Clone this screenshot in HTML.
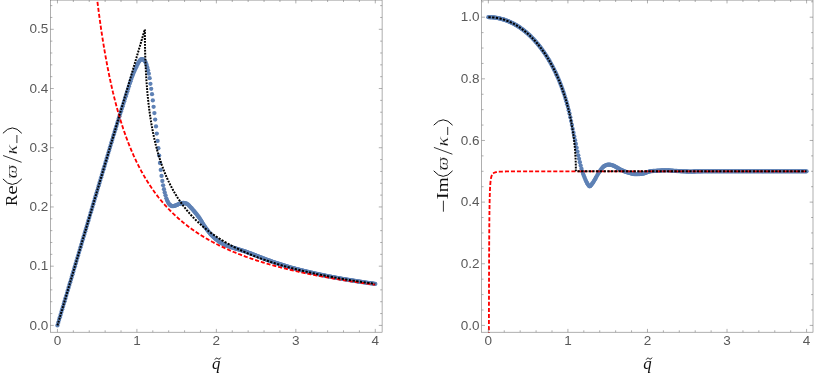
<!DOCTYPE html>
<html><head><meta charset="utf-8"><title>plot</title>
<style>html,body{margin:0;padding:0;background:#fff}body{width:814px;height:379px;position:relative;overflow:hidden;font-family:"Liberation Sans",sans-serif}</style>
</head><body>
<svg width="814" height="379" viewBox="0 0 814 379" style="position:absolute;left:0;top:0;opacity:0.999;will-change:transform"><defs><clipPath id="cl"><rect x="50.45" y="0.1" width="331.65000000000003" height="332.7"/></clipPath><clipPath id="cr"><rect x="481.66" y="0.1" width="331.34" height="332.7"/></clipPath></defs><g clip-path="url(#cl)"><g fill="#5e81b5"><circle cx="57.45" cy="325.40" r="2.15"/><circle cx="58.24" cy="322.71" r="2.15"/><circle cx="59.04" cy="320.02" r="2.15"/><circle cx="59.83" cy="317.32" r="2.15"/><circle cx="60.63" cy="314.63" r="2.15"/><circle cx="61.42" cy="311.94" r="2.15"/><circle cx="62.22" cy="309.25" r="2.15"/><circle cx="63.01" cy="306.56" r="2.15"/><circle cx="63.81" cy="303.87" r="2.15"/><circle cx="64.60" cy="301.17" r="2.15"/><circle cx="65.40" cy="298.48" r="2.15"/><circle cx="66.19" cy="295.79" r="2.15"/><circle cx="66.99" cy="293.10" r="2.15"/><circle cx="67.78" cy="290.41" r="2.15"/><circle cx="68.57" cy="287.71" r="2.15"/><circle cx="69.37" cy="285.02" r="2.15"/><circle cx="70.16" cy="282.33" r="2.15"/><circle cx="70.96" cy="279.64" r="2.15"/><circle cx="71.75" cy="276.95" r="2.15"/><circle cx="72.55" cy="274.26" r="2.15"/><circle cx="73.34" cy="271.56" r="2.15"/><circle cx="74.14" cy="268.87" r="2.15"/><circle cx="74.93" cy="266.18" r="2.15"/><circle cx="75.73" cy="263.49" r="2.15"/><circle cx="76.52" cy="260.80" r="2.15"/><circle cx="77.31" cy="258.10" r="2.15"/><circle cx="78.11" cy="255.41" r="2.15"/><circle cx="78.90" cy="252.72" r="2.15"/><circle cx="79.70" cy="250.03" r="2.15"/><circle cx="80.49" cy="247.34" r="2.15"/><circle cx="81.29" cy="244.65" r="2.15"/><circle cx="82.08" cy="241.95" r="2.15"/><circle cx="82.88" cy="239.26" r="2.15"/><circle cx="83.67" cy="236.57" r="2.15"/><circle cx="84.47" cy="233.88" r="2.15"/><circle cx="85.26" cy="231.19" r="2.15"/><circle cx="86.06" cy="228.49" r="2.15"/><circle cx="86.85" cy="225.80" r="2.15"/><circle cx="87.64" cy="223.11" r="2.15"/><circle cx="88.44" cy="220.42" r="2.15"/><circle cx="89.23" cy="217.73" r="2.15"/><circle cx="90.03" cy="215.04" r="2.15"/><circle cx="90.82" cy="212.34" r="2.15"/><circle cx="91.62" cy="209.65" r="2.15"/><circle cx="92.41" cy="206.96" r="2.15"/><circle cx="93.21" cy="204.27" r="2.15"/><circle cx="94.00" cy="201.58" r="2.15"/><circle cx="94.80" cy="198.88" r="2.15"/><circle cx="95.59" cy="196.19" r="2.15"/><circle cx="96.39" cy="193.50" r="2.15"/><circle cx="97.18" cy="190.81" r="2.15"/><circle cx="97.97" cy="188.12" r="2.15"/><circle cx="98.77" cy="185.43" r="2.15"/><circle cx="99.56" cy="182.73" r="2.15"/><circle cx="100.36" cy="180.04" r="2.15"/><circle cx="101.15" cy="177.35" r="2.15"/><circle cx="101.95" cy="174.66" r="2.15"/><circle cx="102.74" cy="171.97" r="2.15"/><circle cx="103.54" cy="169.27" r="2.15"/><circle cx="104.33" cy="166.58" r="2.15"/><circle cx="105.13" cy="163.89" r="2.15"/><circle cx="105.92" cy="161.20" r="2.15"/><circle cx="106.72" cy="158.51" r="2.15"/><circle cx="107.51" cy="155.82" r="2.15"/><circle cx="108.30" cy="153.12" r="2.15"/><circle cx="109.10" cy="150.43" r="2.15"/><circle cx="109.89" cy="147.74" r="2.15"/><circle cx="110.69" cy="145.05" r="2.15"/><circle cx="111.48" cy="142.36" r="2.15"/><circle cx="112.28" cy="139.66" r="2.15"/><circle cx="113.07" cy="136.97" r="2.15"/><circle cx="113.87" cy="134.35" r="2.15"/><circle cx="114.66" cy="131.74" r="2.15"/><circle cx="115.46" cy="129.15" r="2.15"/><circle cx="116.25" cy="126.56" r="2.15"/><circle cx="117.05" cy="123.99" r="2.15"/><circle cx="117.84" cy="121.43" r="2.15"/><circle cx="118.63" cy="118.87" r="2.15"/><circle cx="119.43" cy="116.32" r="2.15"/><circle cx="120.22" cy="113.78" r="2.15"/><circle cx="121.02" cy="111.24" r="2.15"/><circle cx="121.81" cy="108.70" r="2.15"/><circle cx="122.61" cy="106.18" r="2.15"/><circle cx="123.40" cy="103.65" r="2.15"/><circle cx="124.20" cy="101.14" r="2.15"/><circle cx="124.99" cy="98.64" r="2.15"/><circle cx="125.79" cy="96.14" r="2.15"/><circle cx="126.58" cy="93.66" r="2.15"/><circle cx="127.37" cy="91.18" r="2.15"/><circle cx="128.17" cy="88.68" r="2.15"/><circle cx="128.96" cy="86.15" r="2.15"/><circle cx="129.76" cy="83.62" r="2.15"/><circle cx="130.55" cy="81.15" r="2.15"/><circle cx="131.35" cy="78.78" r="2.15"/><circle cx="132.14" cy="76.55" r="2.15"/><circle cx="132.94" cy="74.52" r="2.15"/><circle cx="133.73" cy="72.61" r="2.15"/><circle cx="134.53" cy="70.77" r="2.15"/><circle cx="135.32" cy="68.92" r="2.15"/><circle cx="136.12" cy="67.13" r="2.15"/><circle cx="136.91" cy="65.48" r="2.15"/><circle cx="137.70" cy="63.97" r="2.15"/><circle cx="138.50" cy="62.58" r="2.15"/><circle cx="139.29" cy="61.32" r="2.15"/><circle cx="140.09" cy="60.21" r="2.15"/><circle cx="140.88" cy="59.49" r="2.15"/><circle cx="141.68" cy="59.10" r="2.15"/><circle cx="142.47" cy="59.23" r="2.15"/><circle cx="143.27" cy="59.53" r="2.15"/><circle cx="144.06" cy="60.15" r="2.15"/><circle cx="144.86" cy="61.17" r="2.15"/><circle cx="145.65" cy="62.48" r="2.15"/><circle cx="146.45" cy="64.52" r="2.15"/><circle cx="147.24" cy="67.20" r="2.15"/><circle cx="148.03" cy="70.14" r="2.15"/><circle cx="148.83" cy="73.63" r="2.15"/><circle cx="149.62" cy="78.19" r="2.15"/><circle cx="150.42" cy="83.79" r="2.15"/><circle cx="151.21" cy="88.82" r="2.15"/><circle cx="152.01" cy="94.19" r="2.15"/><circle cx="152.80" cy="100.41" r="2.15"/><circle cx="153.60" cy="106.85" r="2.15"/><circle cx="154.39" cy="113.12" r="2.15"/><circle cx="155.19" cy="119.60" r="2.15"/><circle cx="155.98" cy="126.47" r="2.15"/><circle cx="156.77" cy="133.62" r="2.15"/><circle cx="157.57" cy="140.89" r="2.15"/><circle cx="158.36" cy="148.21" r="2.15"/><circle cx="159.16" cy="155.61" r="2.15"/><circle cx="159.95" cy="162.98" r="2.15"/><circle cx="160.75" cy="169.94" r="2.15"/><circle cx="161.54" cy="175.92" r="2.15"/><circle cx="162.34" cy="180.98" r="2.15"/><circle cx="163.13" cy="185.36" r="2.15"/><circle cx="163.93" cy="189.16" r="2.15"/><circle cx="164.72" cy="192.44" r="2.15"/><circle cx="165.52" cy="195.37" r="2.15"/><circle cx="166.31" cy="198.37" r="2.15"/><circle cx="167.10" cy="200.41" r="2.15"/><circle cx="167.90" cy="201.97" r="2.15"/><circle cx="168.69" cy="203.38" r="2.15"/><circle cx="169.49" cy="204.50" r="2.15"/><circle cx="170.28" cy="205.19" r="2.15"/><circle cx="171.08" cy="205.75" r="2.15"/><circle cx="171.87" cy="206.12" r="2.15"/><circle cx="172.67" cy="206.19" r="2.15"/><circle cx="173.46" cy="206.09" r="2.15"/><circle cx="174.26" cy="205.89" r="2.15"/><circle cx="175.05" cy="205.64" r="2.15"/><circle cx="175.85" cy="205.38" r="2.15"/><circle cx="176.64" cy="205.10" r="2.15"/><circle cx="177.43" cy="204.74" r="2.15"/><circle cx="178.23" cy="204.34" r="2.15"/><circle cx="179.02" cy="203.97" r="2.15"/><circle cx="179.82" cy="203.70" r="2.15"/><circle cx="180.61" cy="203.48" r="2.15"/><circle cx="181.41" cy="203.28" r="2.15"/><circle cx="182.20" cy="203.12" r="2.15"/><circle cx="183.00" cy="203.02" r="2.15"/><circle cx="183.79" cy="203.01" r="2.15"/><circle cx="184.59" cy="203.10" r="2.15"/><circle cx="185.38" cy="203.28" r="2.15"/><circle cx="186.18" cy="203.52" r="2.15"/><circle cx="186.97" cy="203.81" r="2.15"/><circle cx="187.76" cy="204.32" r="2.15"/><circle cx="188.56" cy="205.04" r="2.15"/><circle cx="189.35" cy="205.89" r="2.15"/><circle cx="190.15" cy="206.79" r="2.15"/><circle cx="190.94" cy="207.64" r="2.15"/><circle cx="191.74" cy="208.48" r="2.15"/><circle cx="192.53" cy="209.37" r="2.15"/><circle cx="193.33" cy="210.28" r="2.15"/><circle cx="194.12" cy="211.22" r="2.15"/><circle cx="194.92" cy="212.18" r="2.15"/><circle cx="195.71" cy="213.14" r="2.15"/><circle cx="196.50" cy="214.12" r="2.15"/><circle cx="197.30" cy="215.12" r="2.15"/><circle cx="198.09" cy="216.15" r="2.15"/><circle cx="198.89" cy="217.22" r="2.15"/><circle cx="199.68" cy="218.36" r="2.15"/><circle cx="200.48" cy="219.59" r="2.15"/><circle cx="201.27" cy="220.89" r="2.15"/><circle cx="202.07" cy="222.22" r="2.15"/><circle cx="202.86" cy="223.54" r="2.15"/><circle cx="203.66" cy="224.83" r="2.15"/><circle cx="204.45" cy="226.03" r="2.15"/><circle cx="205.25" cy="227.17" r="2.15"/><circle cx="206.04" cy="228.30" r="2.15"/><circle cx="206.83" cy="229.41" r="2.15"/><circle cx="207.63" cy="230.49" r="2.15"/><circle cx="208.42" cy="231.53" r="2.15"/><circle cx="209.22" cy="232.53" r="2.15"/><circle cx="210.01" cy="233.49" r="2.15"/><circle cx="210.81" cy="234.39" r="2.15"/><circle cx="211.60" cy="235.23" r="2.15"/><circle cx="212.40" cy="236.03" r="2.15"/><circle cx="213.19" cy="236.81" r="2.15"/><circle cx="213.99" cy="237.55" r="2.15"/><circle cx="214.78" cy="238.27" r="2.15"/><circle cx="215.58" cy="238.95" r="2.15"/><circle cx="216.37" cy="239.59" r="2.15"/><circle cx="217.16" cy="240.21" r="2.15"/><circle cx="217.96" cy="240.79" r="2.15"/><circle cx="218.75" cy="241.35" r="2.15"/><circle cx="219.55" cy="241.89" r="2.15"/><circle cx="220.34" cy="242.41" r="2.15"/><circle cx="221.14" cy="242.90" r="2.15"/><circle cx="221.93" cy="243.37" r="2.15"/><circle cx="222.73" cy="243.82" r="2.15"/><circle cx="223.52" cy="244.23" r="2.15"/><circle cx="224.32" cy="244.61" r="2.15"/><circle cx="225.11" cy="244.96" r="2.15"/><circle cx="225.91" cy="245.29" r="2.15"/><circle cx="226.70" cy="245.60" r="2.15"/><circle cx="227.49" cy="245.90" r="2.15"/><circle cx="228.29" cy="246.19" r="2.15"/><circle cx="229.08" cy="246.46" r="2.15"/><circle cx="229.88" cy="246.73" r="2.15"/><circle cx="230.67" cy="246.99" r="2.15"/><circle cx="231.47" cy="247.24" r="2.15"/><circle cx="232.26" cy="247.50" r="2.15"/><circle cx="233.06" cy="247.76" r="2.15"/><circle cx="233.85" cy="248.01" r="2.15"/><circle cx="234.65" cy="248.26" r="2.15"/><circle cx="235.44" cy="248.51" r="2.15"/><circle cx="236.24" cy="248.74" r="2.15"/><circle cx="237.03" cy="248.98" r="2.15"/><circle cx="237.82" cy="249.21" r="2.15"/><circle cx="238.62" cy="249.44" r="2.15"/><circle cx="239.41" cy="249.67" r="2.15"/><circle cx="240.21" cy="249.90" r="2.15"/><circle cx="241.00" cy="250.14" r="2.15"/><circle cx="241.80" cy="250.38" r="2.15"/><circle cx="242.59" cy="250.63" r="2.15"/><circle cx="243.39" cy="250.89" r="2.15"/><circle cx="244.18" cy="251.16" r="2.15"/><circle cx="244.98" cy="251.43" r="2.15"/><circle cx="245.77" cy="251.71" r="2.15"/><circle cx="246.56" cy="251.99" r="2.15"/><circle cx="247.36" cy="252.27" r="2.15"/><circle cx="248.15" cy="252.56" r="2.15"/><circle cx="248.95" cy="252.85" r="2.15"/><circle cx="249.74" cy="253.14" r="2.15"/><circle cx="250.54" cy="253.44" r="2.15"/><circle cx="251.33" cy="253.73" r="2.15"/><circle cx="252.13" cy="254.03" r="2.15"/><circle cx="252.92" cy="254.33" r="2.15"/><circle cx="253.72" cy="254.63" r="2.15"/><circle cx="254.51" cy="254.93" r="2.15"/><circle cx="255.31" cy="255.24" r="2.15"/><circle cx="256.10" cy="255.55" r="2.15"/><circle cx="256.89" cy="255.86" r="2.15"/><circle cx="257.69" cy="256.18" r="2.15"/><circle cx="258.48" cy="256.50" r="2.15"/><circle cx="259.28" cy="256.82" r="2.15"/><circle cx="260.07" cy="257.14" r="2.15"/><circle cx="260.87" cy="257.45" r="2.15"/><circle cx="261.66" cy="257.77" r="2.15"/><circle cx="262.46" cy="258.08" r="2.15"/><circle cx="263.25" cy="258.38" r="2.15"/><circle cx="264.05" cy="258.68" r="2.15"/><circle cx="264.84" cy="258.97" r="2.15"/><circle cx="265.64" cy="259.26" r="2.15"/><circle cx="266.43" cy="259.55" r="2.15"/><circle cx="267.22" cy="259.84" r="2.15"/><circle cx="268.02" cy="260.13" r="2.15"/><circle cx="268.81" cy="260.42" r="2.15"/><circle cx="269.61" cy="260.70" r="2.15"/><circle cx="270.40" cy="260.98" r="2.15"/><circle cx="271.20" cy="261.26" r="2.15"/><circle cx="271.99" cy="261.54" r="2.15"/><circle cx="272.79" cy="261.82" r="2.15"/><circle cx="273.58" cy="262.09" r="2.15"/><circle cx="274.38" cy="262.37" r="2.15"/><circle cx="275.17" cy="262.64" r="2.15"/><circle cx="275.96" cy="262.90" r="2.15"/><circle cx="276.76" cy="263.17" r="2.15"/><circle cx="277.55" cy="263.43" r="2.15"/><circle cx="278.35" cy="263.69" r="2.15"/><circle cx="279.14" cy="263.95" r="2.15"/><circle cx="279.94" cy="264.20" r="2.15"/><circle cx="280.73" cy="264.45" r="2.15"/><circle cx="281.53" cy="264.70" r="2.15"/><circle cx="282.32" cy="264.95" r="2.15"/><circle cx="283.12" cy="265.20" r="2.15"/><circle cx="283.91" cy="265.44" r="2.15"/><circle cx="284.71" cy="265.69" r="2.15"/><circle cx="285.50" cy="265.93" r="2.15"/><circle cx="286.29" cy="266.17" r="2.15"/><circle cx="287.09" cy="266.40" r="2.15"/><circle cx="287.88" cy="266.64" r="2.15"/><circle cx="288.68" cy="266.87" r="2.15"/><circle cx="289.47" cy="267.10" r="2.15"/><circle cx="290.27" cy="267.33" r="2.15"/><circle cx="291.06" cy="267.55" r="2.15"/><circle cx="291.86" cy="267.78" r="2.15"/><circle cx="292.65" cy="268.00" r="2.15"/><circle cx="293.45" cy="268.22" r="2.15"/><circle cx="294.24" cy="268.43" r="2.15"/><circle cx="295.04" cy="268.65" r="2.15"/><circle cx="295.83" cy="268.86" r="2.15"/><circle cx="296.62" cy="269.07" r="2.15"/><circle cx="297.42" cy="269.27" r="2.15"/><circle cx="298.21" cy="269.48" r="2.15"/><circle cx="299.01" cy="269.68" r="2.15"/><circle cx="299.80" cy="269.88" r="2.15"/><circle cx="300.60" cy="270.09" r="2.15"/><circle cx="301.39" cy="270.29" r="2.15"/><circle cx="302.19" cy="270.48" r="2.15"/><circle cx="302.98" cy="270.68" r="2.15"/><circle cx="303.78" cy="270.88" r="2.15"/><circle cx="304.57" cy="271.07" r="2.15"/><circle cx="305.37" cy="271.26" r="2.15"/><circle cx="306.16" cy="271.45" r="2.15"/><circle cx="306.95" cy="271.64" r="2.15"/><circle cx="307.75" cy="271.83" r="2.15"/><circle cx="308.54" cy="272.02" r="2.15"/><circle cx="309.34" cy="272.20" r="2.15"/><circle cx="310.13" cy="272.39" r="2.15"/><circle cx="310.93" cy="272.57" r="2.15"/><circle cx="311.72" cy="272.75" r="2.15"/><circle cx="312.52" cy="272.93" r="2.15"/><circle cx="313.31" cy="273.11" r="2.15"/><circle cx="314.11" cy="273.29" r="2.15"/><circle cx="314.90" cy="273.47" r="2.15"/><circle cx="315.69" cy="273.64" r="2.15"/><circle cx="316.49" cy="273.82" r="2.15"/><circle cx="317.28" cy="273.99" r="2.15"/><circle cx="318.08" cy="274.16" r="2.15"/><circle cx="318.87" cy="274.33" r="2.15"/><circle cx="319.67" cy="274.50" r="2.15"/><circle cx="320.46" cy="274.66" r="2.15"/><circle cx="321.26" cy="274.83" r="2.15"/><circle cx="322.05" cy="275.00" r="2.15"/><circle cx="322.85" cy="275.16" r="2.15"/><circle cx="323.64" cy="275.32" r="2.15"/><circle cx="324.44" cy="275.49" r="2.15"/><circle cx="325.23" cy="275.65" r="2.15"/><circle cx="326.02" cy="275.81" r="2.15"/><circle cx="326.82" cy="275.97" r="2.15"/><circle cx="327.61" cy="276.12" r="2.15"/><circle cx="328.41" cy="276.28" r="2.15"/><circle cx="329.20" cy="276.44" r="2.15"/><circle cx="330.00" cy="276.59" r="2.15"/><circle cx="330.79" cy="276.75" r="2.15"/><circle cx="331.59" cy="276.90" r="2.15"/><circle cx="332.38" cy="277.05" r="2.15"/><circle cx="333.18" cy="277.20" r="2.15"/><circle cx="333.97" cy="277.35" r="2.15"/><circle cx="334.77" cy="277.50" r="2.15"/><circle cx="335.56" cy="277.64" r="2.15"/><circle cx="336.35" cy="277.79" r="2.15"/><circle cx="337.15" cy="277.94" r="2.15"/><circle cx="337.94" cy="278.08" r="2.15"/><circle cx="338.74" cy="278.22" r="2.15"/><circle cx="339.53" cy="278.36" r="2.15"/><circle cx="340.33" cy="278.50" r="2.15"/><circle cx="341.12" cy="278.64" r="2.15"/><circle cx="341.92" cy="278.78" r="2.15"/><circle cx="342.71" cy="278.92" r="2.15"/><circle cx="343.51" cy="279.05" r="2.15"/><circle cx="344.30" cy="279.19" r="2.15"/><circle cx="345.10" cy="279.32" r="2.15"/><circle cx="345.89" cy="279.46" r="2.15"/><circle cx="346.68" cy="279.59" r="2.15"/><circle cx="347.48" cy="279.72" r="2.15"/><circle cx="348.27" cy="279.86" r="2.15"/><circle cx="349.07" cy="279.99" r="2.15"/><circle cx="349.86" cy="280.12" r="2.15"/><circle cx="350.66" cy="280.25" r="2.15"/><circle cx="351.45" cy="280.38" r="2.15"/><circle cx="352.25" cy="280.51" r="2.15"/><circle cx="353.04" cy="280.63" r="2.15"/><circle cx="353.84" cy="280.76" r="2.15"/><circle cx="354.63" cy="280.89" r="2.15"/><circle cx="355.42" cy="281.01" r="2.15"/><circle cx="356.22" cy="281.14" r="2.15"/><circle cx="357.01" cy="281.26" r="2.15"/><circle cx="357.81" cy="281.39" r="2.15"/><circle cx="358.60" cy="281.51" r="2.15"/><circle cx="359.40" cy="281.63" r="2.15"/><circle cx="360.19" cy="281.75" r="2.15"/><circle cx="360.99" cy="281.87" r="2.15"/><circle cx="361.78" cy="281.99" r="2.15"/><circle cx="362.58" cy="282.11" r="2.15"/><circle cx="363.37" cy="282.23" r="2.15"/><circle cx="364.17" cy="282.35" r="2.15"/><circle cx="364.96" cy="282.46" r="2.15"/><circle cx="365.75" cy="282.58" r="2.15"/><circle cx="366.55" cy="282.69" r="2.15"/><circle cx="367.34" cy="282.81" r="2.15"/><circle cx="368.14" cy="282.92" r="2.15"/><circle cx="368.93" cy="283.03" r="2.15"/><circle cx="369.73" cy="283.14" r="2.15"/><circle cx="370.52" cy="283.25" r="2.15"/><circle cx="371.32" cy="283.36" r="2.15"/><circle cx="372.11" cy="283.47" r="2.15"/><circle cx="372.91" cy="283.57" r="2.15"/><circle cx="373.70" cy="283.68" r="2.15"/><circle cx="374.50" cy="283.78" r="2.15"/><circle cx="375.29" cy="283.89" r="2.15"/></g><path d="M81.29,-217.45L81.32,-216.85L81.34,-216.25L81.37,-215.65L81.38,-215.35M81.47,-213.40L81.50,-212.80L81.53,-212.21L81.55,-211.61L81.58,-211.01L81.61,-210.41L81.63,-209.81L81.65,-209.36M81.74,-207.41L81.77,-206.81L81.80,-206.21L81.82,-205.61L81.85,-205.01L81.88,-204.41L81.91,-203.81L81.93,-203.36M82.01,-201.42L82.04,-200.82L82.07,-200.22L82.10,-199.62L82.13,-199.02L82.16,-198.42L82.19,-197.82L82.21,-197.37M82.30,-195.42L82.33,-194.82L82.36,-194.22L82.39,-193.63L82.42,-193.03L82.45,-192.43L82.47,-191.83L82.50,-191.38M82.59,-189.43L82.62,-188.83L82.65,-188.23L82.68,-187.63L82.70,-187.03L82.73,-186.43L82.76,-185.83L82.79,-185.38M82.88,-183.44L82.91,-182.84L82.95,-182.24L82.98,-181.64L83.01,-181.04L83.04,-180.44L83.07,-179.84L83.09,-179.39M83.19,-177.45L83.22,-176.85L83.25,-176.25L83.28,-175.65L83.31,-175.05L83.34,-174.45L83.37,-173.85L83.40,-173.40M83.49,-171.45L83.53,-170.85L83.56,-170.25L83.59,-169.66L83.62,-169.06L83.66,-168.46L83.69,-167.86L83.71,-167.41M83.82,-165.46L83.85,-164.86L83.88,-164.26L83.91,-163.66L83.95,-163.07L83.98,-162.47L84.01,-161.87L84.04,-161.42M84.14,-159.47L84.17,-158.87L84.21,-158.27L84.24,-157.67L84.27,-157.07L84.31,-156.47L84.34,-155.88L84.37,-155.43M84.48,-153.48L84.51,-152.88L84.54,-152.28L84.58,-151.68L84.61,-151.08L84.65,-150.48L84.68,-149.89L84.71,-149.44M84.82,-147.49L84.85,-146.89L84.89,-146.29L84.92,-145.69L84.95,-145.09L84.99,-144.49L85.03,-143.90L85.05,-143.45M85.17,-141.50L85.21,-140.90L85.24,-140.30L85.28,-139.70L85.31,-139.10L85.35,-138.51L85.39,-137.91L85.41,-137.46M85.53,-135.51L85.57,-134.91L85.60,-134.31L85.64,-133.71L85.67,-133.12L85.71,-132.52L85.75,-131.92L85.78,-131.47M85.90,-129.52L85.94,-128.92L85.97,-128.32L86.01,-127.73L86.05,-127.13L86.09,-126.53L86.13,-125.93L86.15,-125.48M86.28,-123.53L86.32,-122.94L86.35,-122.34L86.39,-121.74L86.43,-121.14L86.47,-120.54L86.51,-119.94L86.54,-119.49M86.67,-117.55L86.71,-116.95L86.75,-116.35L86.79,-115.75L86.83,-115.15L86.87,-114.55L86.91,-113.95L86.94,-113.51M87.07,-111.56L87.11,-110.96L87.15,-110.36L87.19,-109.76L87.23,-109.17L87.27,-108.57L87.31,-107.97L87.34,-107.52M87.48,-105.57L87.52,-104.98L87.56,-104.38L87.61,-103.78L87.65,-103.18L87.69,-102.58L87.73,-101.98L87.76,-101.53M87.90,-99.59L87.94,-98.99L87.99,-98.39L88.03,-97.79L88.07,-97.20L88.12,-96.60L88.16,-96.00L88.20,-95.55M88.34,-93.61L88.38,-93.01L88.43,-92.41L88.47,-91.81L88.51,-91.21L88.56,-90.61L88.60,-90.01L88.63,-89.57M88.78,-87.62L88.83,-87.02L88.88,-86.43L88.92,-85.83L88.97,-85.23L89.01,-84.63L89.06,-84.03L89.09,-83.58M89.24,-81.64L89.29,-81.04L89.34,-80.44L89.38,-79.84L89.43,-79.25L89.48,-78.65L89.53,-78.05L89.56,-77.60M89.72,-75.66L89.77,-75.06L89.82,-74.46L89.86,-73.86L89.91,-73.27L89.96,-72.67L90.01,-72.07L90.05,-71.62M90.21,-69.68L90.26,-69.08L90.31,-68.48L90.36,-67.88L90.41,-67.29L90.46,-66.69L90.51,-66.09L90.55,-65.64M90.71,-63.70L90.76,-63.10L90.81,-62.50L90.86,-61.91L90.91,-61.31L90.97,-60.71L91.02,-60.11L91.06,-59.66M91.23,-57.72L91.28,-57.12L91.34,-56.53L91.39,-55.93L91.44,-55.33L91.49,-54.73L91.55,-54.14L91.59,-53.69M91.76,-51.75L91.82,-51.15L91.87,-50.55L91.93,-49.95L91.98,-49.36L92.04,-48.76L92.09,-48.16L92.14,-47.71M92.31,-45.77L92.37,-45.17L92.43,-44.58L92.49,-43.98L92.54,-43.38L92.60,-42.78L92.66,-42.19L92.70,-41.74M92.89,-39.80L92.94,-39.20L93.00,-38.60L93.06,-38.01L93.12,-37.41L93.18,-36.81L93.24,-36.22L93.28,-35.77M93.48,-33.83L93.54,-33.23L93.60,-32.63L93.66,-32.04L93.72,-31.44L93.78,-30.84L93.84,-30.25L93.88,-29.80M94.09,-27.86L94.15,-27.26L94.21,-26.66L94.27,-26.07L94.33,-25.47L94.40,-24.87L94.46,-24.28L94.51,-23.83M94.71,-21.89L94.78,-21.29L94.84,-20.70L94.91,-20.10L94.97,-19.51L95.04,-18.91L95.10,-18.31L95.15,-17.86M95.36,-15.93L95.43,-15.33L95.50,-14.73L95.57,-14.14L95.63,-13.54L95.70,-12.95L95.77,-12.35L95.82,-11.90M96.04,-9.96L96.11,-9.37L96.18,-8.77L96.25,-8.18L96.32,-7.58L96.39,-6.98L96.46,-6.39L96.51,-5.94M96.73,-4.01L96.81,-3.41L96.88,-2.81L96.95,-2.22L97.02,-1.62L97.10,-1.03L97.17,-0.43L97.22,0.02M97.46,1.95L97.53,2.55L97.61,3.14L97.68,3.74L97.76,4.33L97.83,4.93L97.91,5.52L97.96,5.97M98.21,7.90L98.29,8.50L98.36,9.09L98.44,9.69L98.52,10.28L98.60,10.88L98.67,11.47L98.73,11.92M98.99,13.85L99.07,14.45L99.15,15.04L99.23,15.64L99.31,16.23L99.39,16.83L99.47,17.42L99.53,17.87M99.80,19.80L99.88,20.39L99.96,20.99L100.05,21.58L100.13,22.18L100.21,22.77L100.30,23.36L100.36,23.81M100.64,25.74L100.72,26.33L100.81,26.93L100.89,27.52L100.98,28.11L101.07,28.71L101.15,29.30L101.22,29.75M101.51,31.68L101.60,32.27L101.69,32.86L101.78,33.46L101.87,34.05L101.96,34.64L102.05,35.23L102.12,35.68M102.42,37.61L102.51,38.20L102.60,38.79L102.69,39.38L102.79,39.98L102.88,40.57L102.98,41.16L103.05,41.61M103.36,43.53L103.46,44.12L103.56,44.72L103.65,45.31L103.75,45.90L103.85,46.49L103.95,47.08L104.02,47.53M104.35,49.45L104.45,50.04L104.55,50.63L104.65,51.22L104.75,51.82L104.85,52.41L104.96,53.00L105.03,53.44M105.37,55.36L105.48,55.95L105.58,56.54L105.69,57.13L105.80,57.72L105.90,58.31L106.01,58.90L106.09,59.35M106.44,61.27L106.55,61.86L106.66,62.44L106.77,63.03L106.89,63.62L107.00,64.21L107.11,64.80L107.19,65.25M107.56,67.16L107.68,67.75L107.79,68.34L107.91,68.93L108.02,69.52L108.14,70.10L108.26,70.69L108.35,71.13M108.73,73.05L108.85,73.63L108.97,74.22L109.09,74.81L109.21,75.40L109.33,75.98L109.46,76.57L109.55,77.01M109.95,78.92L110.08,79.51L110.20,80.09L110.33,80.68L110.46,81.27L110.58,81.85L110.71,82.44L110.81,82.88M111.23,84.78L111.36,85.37L111.49,85.95L111.63,86.54L111.76,87.12L111.89,87.71L112.03,88.29L112.13,88.73M112.57,90.63L112.71,91.21L112.85,91.80L112.98,92.38L113.13,92.97L113.27,93.55L113.41,94.13L113.51,94.57M113.98,96.46L114.12,97.05L114.26,97.63L114.41,98.21L114.56,98.79L114.70,99.37L114.85,99.95L114.96,100.39M115.45,102.28L115.60,102.86L115.75,103.44L115.90,104.02L116.06,104.60L116.21,105.18L116.37,105.76L116.49,106.19M117.00,108.08L117.16,108.65L117.31,109.23L117.47,109.81L117.64,110.39L117.80,110.97L117.96,111.54L118.08,111.98M118.62,113.85L118.79,114.43L118.96,115.00L119.13,115.58L119.30,116.16L119.47,116.73L119.64,117.31L119.77,117.74M120.33,119.60L120.51,120.18L120.68,120.75L120.86,121.32L121.04,121.90L121.22,122.47L121.40,123.04L121.54,123.47M122.13,125.33L122.32,125.90L122.50,126.47L122.69,127.04L122.88,127.61L123.07,128.18L123.25,128.75L123.40,129.17M124.02,131.02L124.22,131.59L124.42,132.15L124.61,132.72L124.81,133.29L125.01,133.85L125.21,134.42L125.36,134.84M126.02,136.68L126.22,137.24L126.43,137.81L126.64,138.37L126.85,138.93L127.06,139.49L127.27,140.05L127.43,140.48M128.13,142.30L128.34,142.86L128.56,143.42L128.78,143.97L129.00,144.53L129.22,145.09L129.44,145.65L129.61,146.06M130.34,147.87L130.57,148.43L130.80,148.98L131.03,149.53L131.26,150.09L131.50,150.64L131.73,151.19L131.91,151.61M132.68,153.40L132.93,153.95L133.17,154.49L133.41,155.04L133.66,155.59L133.90,156.14L134.15,156.68L134.34,157.09M135.15,158.86L135.41,159.41L135.66,159.95L135.92,160.49L136.18,161.03L136.44,161.57L136.70,162.11L136.90,162.52M137.76,164.27L138.03,164.81L138.30,165.34L138.57,165.88L138.84,166.41L139.12,166.94L139.39,167.48L139.60,167.88M140.51,169.60L140.79,170.13L141.08,170.66L141.36,171.19L141.65,171.71L141.94,172.24L142.23,172.76L142.45,173.16M143.41,174.85L143.71,175.37L144.01,175.89L144.31,176.41L144.61,176.93L144.92,177.45L145.22,177.96L145.45,178.35M146.46,180.02L146.78,180.53L147.09,181.04L147.41,181.55L147.73,182.06L148.05,182.56L148.37,183.07L148.61,183.45M149.68,185.09L150.01,185.59L150.34,186.09L150.67,186.58L151.01,187.08L151.34,187.58L151.68,188.07L151.94,188.44M153.05,190.04L153.40,190.53L153.75,191.02L154.10,191.51L154.45,191.99L154.81,192.48L155.16,192.96L155.43,193.32M156.60,194.88L156.96,195.36L157.33,195.84L157.70,196.31L158.06,196.78L158.43,197.26L158.81,197.73L159.09,198.08M160.31,199.60L160.69,200.06L161.08,200.52L161.46,200.98L161.85,201.44L162.23,201.90L162.62,202.36L162.91,202.70M164.19,204.17L164.59,204.62L164.99,205.07L165.39,205.52L165.79,205.96L166.20,206.40L166.60,206.85L166.91,207.18M168.24,208.60L168.66,209.03L169.07,209.47L169.49,209.90L169.91,210.33L170.33,210.76L170.75,211.18L171.07,211.50M172.45,212.87L172.88,213.29L173.31,213.71L173.74,214.13L174.18,214.54L174.61,214.95L175.05,215.36L175.38,215.67M176.82,216.99L177.26,217.39L177.71,217.79L178.16,218.19L178.61,218.59L179.06,218.99L179.51,219.38L179.85,219.68M181.33,220.94L181.79,221.33L182.25,221.71L182.71,222.09L183.18,222.47L183.64,222.85L184.11,223.23L184.46,223.51M185.99,224.73L186.46,225.09L186.94,225.46L187.41,225.83L187.89,226.19L188.37,226.55L188.85,226.91L189.21,227.18M190.78,228.34L191.26,228.69L191.75,229.04L192.24,229.39L192.73,229.74L193.22,230.09L193.71,230.43L194.08,230.69M195.69,231.79L196.18,232.12L196.68,232.46L197.18,232.79L197.68,233.12L198.18,233.45L198.69,233.78L199.06,234.02M200.71,235.07L201.22,235.39L201.73,235.71L202.24,236.02L202.75,236.34L203.26,236.65L203.77,236.96L204.16,237.19M205.83,238.19L206.35,238.49L206.87,238.79L207.39,239.09L207.91,239.39L208.43,239.69L208.95,239.99L209.35,240.21M211.05,241.15L211.58,241.44L212.10,241.73L212.63,242.01L213.16,242.29L213.69,242.58L214.22,242.86L214.62,243.07M216.35,243.96L216.89,244.24L217.42,244.51L217.96,244.78L218.49,245.05L219.03,245.31L219.57,245.58L219.97,245.78M221.73,246.63L222.27,246.89L222.81,247.14L223.35,247.40L223.90,247.65L224.44,247.91L224.98,248.16L225.39,248.35M227.17,249.15L227.72,249.40L228.27,249.64L228.81,249.89L229.36,250.13L229.91,250.37L230.46,250.61L230.88,250.78M232.67,251.55L233.22,251.78L233.78,252.01L234.33,252.24L234.89,252.47L235.44,252.70L236.00,252.92L236.41,253.09M238.22,253.82L238.78,254.04L239.34,254.26L239.90,254.47L240.46,254.69L241.02,254.91L241.58,255.12L242.00,255.28M243.83,255.97L244.39,256.18L244.95,256.38L245.51,256.59L246.08,256.80L246.64,257.00L247.21,257.20L247.63,257.36M249.47,258.01L250.03,258.21L250.60,258.40L251.17,258.60L251.74,258.79L252.30,258.99L252.87,259.18L253.30,259.33M255.15,259.94L255.72,260.13L256.29,260.32L256.86,260.51L257.43,260.69L258.00,260.87L258.57,261.06L259.00,261.19M260.86,261.78L261.43,261.96L262.00,262.14L262.58,262.32L263.15,262.49L263.73,262.67L264.30,262.84L264.73,262.97M266.60,263.53L267.17,263.70L267.75,263.87L268.33,264.03L268.90,264.20L269.48,264.37L270.06,264.53L270.49,264.66M272.36,265.19L272.94,265.35L273.52,265.51L274.10,265.67L274.68,265.83L275.26,265.99L275.84,266.14L276.27,266.26M278.15,266.77L278.73,266.92L279.31,267.07L279.89,267.23L280.47,267.38L281.06,267.53L281.64,267.68L282.07,267.79M283.96,268.27L284.54,268.42L285.13,268.56L285.71,268.71L286.29,268.85L286.87,269.00L287.46,269.14L287.89,269.25M289.79,269.70L290.37,269.84L290.96,269.98L291.54,270.12L292.12,270.26L292.71,270.39L293.29,270.53L293.73,270.63M295.63,271.07L296.22,271.20L296.80,271.34L297.39,271.47L297.97,271.60L298.56,271.73L299.14,271.86L299.58,271.96M301.49,272.37L302.07,272.50L302.66,272.63L303.25,272.75L303.83,272.88L304.42,273.00L305.01,273.13L305.45,273.22M307.36,273.62L307.94,273.74L308.53,273.86L309.12,273.98L309.71,274.10L310.30,274.22L310.88,274.34L311.32,274.43M313.24,274.81L313.83,274.93L314.41,275.04L315.00,275.16L315.59,275.27L316.18,275.38L316.77,275.50L317.21,275.58M319.13,275.95L319.72,276.06L320.31,276.17L320.90,276.28L321.49,276.39L322.08,276.50L322.67,276.61L323.11,276.69M325.03,277.04L325.62,277.14L326.21,277.25L326.80,277.36L327.39,277.46L327.98,277.57L328.57,277.67L329.02,277.75M330.94,278.08L331.53,278.19L332.12,278.29L332.71,278.39L333.30,278.49L333.89,278.59L334.49,278.69L334.93,278.76M336.85,279.09L337.44,279.18L338.04,279.28L338.63,279.38L339.22,279.47L339.81,279.57L340.40,279.67L340.85,279.74M342.77,280.05L343.37,280.14L343.96,280.23L344.55,280.33L345.15,280.42L345.74,280.51L346.33,280.60L346.78,280.67M348.70,280.97L349.30,281.06L349.89,281.15L350.48,281.24L351.08,281.33L351.67,281.42L352.26,281.51L352.71,281.57M354.64,281.86L355.23,281.94L355.82,282.03L356.42,282.12L357.01,282.20L357.61,282.29L358.20,282.37L358.65,282.44M360.58,282.71L361.17,282.79L361.76,282.88L362.36,282.96L362.95,283.04L363.55,283.12L364.14,283.21L364.59,283.27M366.52,283.53L367.11,283.61L367.71,283.69L368.30,283.77L368.90,283.85L369.49,283.93L370.09,284.01L370.53,284.07M372.47,284.32L373.06,284.40L373.66,284.48L374.25,284.55L374.85,284.63L375.15,284.67" fill="none" stroke="#ff0000" stroke-width="1.85"/><path d="M57.45,325.40L57.62,324.82L57.79,324.25L57.96,323.67L58.00,323.53M58.30,322.52L58.47,321.95L58.64,321.37L58.81,320.80L58.85,320.65M59.15,319.65L59.32,319.07L59.49,318.49L59.66,317.92L59.70,317.78M60.00,316.77L60.17,316.19L60.34,315.62L60.51,315.04L60.55,314.90M60.85,313.89L61.02,313.32L61.19,312.74L61.36,312.16L61.40,312.02M61.70,311.01L61.87,310.44L62.04,309.86L62.21,309.29L62.25,309.14M62.55,308.14L62.72,307.56L62.89,306.99L63.06,306.41L63.10,306.27M63.40,305.26L63.57,304.68L63.74,304.11L63.90,303.53M64.24,302.38L64.41,301.81L64.58,301.23L64.75,300.66M65.09,299.50L65.26,298.93L65.43,298.35L65.60,297.78M65.94,296.63L66.11,296.05L66.28,295.48L66.45,294.90M66.79,293.75L66.96,293.17L67.13,292.60L67.30,292.02M67.64,290.87L67.81,290.30L67.98,289.72L68.15,289.15M68.49,288.00L68.66,287.42L68.83,286.84L69.00,286.27M69.34,285.12L69.51,284.54L69.68,283.97L69.85,283.39M70.19,282.24L70.36,281.67L70.53,281.09L70.70,280.51M71.04,279.36L71.21,278.79L71.38,278.21L71.55,277.64M71.89,276.49L72.06,275.91L72.23,275.34L72.40,274.76M72.74,273.61L72.91,273.03L73.08,272.46L73.25,271.88M73.59,270.73L73.76,270.16L73.93,269.58L74.10,269.01M74.44,267.85L74.61,267.28L74.78,266.70L74.95,266.13M75.29,264.98L75.46,264.40L75.63,263.83L75.80,263.25M76.14,262.10L76.31,261.52L76.48,260.95L76.65,260.37M76.98,259.22L77.15,258.65L77.32,258.07L77.49,257.50M77.83,256.35L78.00,255.77L78.17,255.19L78.34,254.62M78.68,253.47L78.85,252.89L79.02,252.32L79.19,251.74M79.53,250.59L79.70,250.02L79.87,249.44L80.04,248.86M80.38,247.71L80.55,247.14L80.72,246.56L80.89,245.99M81.23,244.84L81.40,244.26L81.57,243.69L81.74,243.11M82.08,241.96L82.25,241.38L82.42,240.81L82.59,240.23M82.93,239.08L83.10,238.51L83.27,237.93L83.44,237.36M83.78,236.20L83.95,235.63L84.12,235.05L84.29,234.48M84.63,233.33L84.80,232.75L84.97,232.18L85.14,231.60M85.44,230.59L85.61,230.02L85.78,229.44L85.95,228.87L85.99,228.72M86.29,227.72L86.45,227.14L86.62,226.57L86.79,225.99L86.84,225.85M87.13,224.84L87.30,224.26L87.47,223.69L87.64,223.11L87.69,222.97M87.98,221.96L88.15,221.39L88.32,220.81L88.49,220.24L88.54,220.09M88.83,219.09L89.00,218.51L89.17,217.93L89.34,217.36L89.39,217.22M89.68,216.21L89.85,215.63L90.02,215.06L90.19,214.48L90.23,214.34M90.53,213.33L90.70,212.76L90.87,212.18L91.04,211.60M91.38,210.45L91.55,209.88L91.72,209.30L91.89,208.73M92.23,207.58L92.40,207.00L92.57,206.43L92.74,205.85M93.08,204.70L93.25,204.12L93.42,203.55L93.59,202.97M93.93,201.82L94.10,201.25L94.27,200.67L94.44,200.10M94.78,198.94L94.95,198.37L95.12,197.79L95.29,197.22M95.63,196.07L95.80,195.49L95.97,194.92L96.14,194.34M96.48,193.19L96.65,192.61L96.82,192.04L96.99,191.46M97.33,190.31L97.50,189.74L97.67,189.16L97.84,188.59M98.18,187.44L98.35,186.86L98.52,186.28L98.69,185.71M99.03,184.56L99.20,183.98L99.36,183.41L99.53,182.83M99.87,181.68L100.04,181.11L100.21,180.53L100.38,179.95M100.72,178.80L100.89,178.23L101.06,177.65L101.23,177.08M101.57,175.93L101.74,175.35L101.91,174.78L102.08,174.20M102.42,173.05L102.59,172.47L102.76,171.90L102.93,171.32M103.27,170.17L103.44,169.60L103.61,169.02L103.78,168.45M104.12,167.29L104.29,166.72L104.46,166.14L104.63,165.57M104.97,164.42L105.14,163.84L105.31,163.27L105.48,162.69M105.82,161.54L105.99,160.96L106.16,160.39L106.33,159.81M106.67,158.66L106.84,158.09L107.01,157.51L107.18,156.94M107.52,155.79L107.69,155.21L107.86,154.63L108.03,154.06M108.37,152.91L108.54,152.33L108.71,151.76L108.88,151.18M109.22,150.03L109.39,149.46L109.56,148.88L109.73,148.30M110.07,147.15L110.24,146.58L110.41,146.00L110.58,145.43M110.92,144.28L111.09,143.70L111.26,143.13L111.43,142.55M111.77,141.40L111.94,140.82L112.11,140.25L112.27,139.67M112.57,138.67L112.74,138.09L112.91,137.51L113.08,136.94L113.12,136.80M113.42,135.79L113.59,135.21L113.76,134.64L113.93,134.06L113.97,133.92M114.27,132.91L114.44,132.34L114.61,131.76L114.78,131.19L114.82,131.04M115.12,130.03L115.29,129.46L115.46,128.88L115.63,128.31L115.67,128.16M115.97,127.16L116.14,126.58L116.31,126.01L116.48,125.43L116.52,125.29M116.82,124.28L116.99,123.70L117.16,123.13L117.33,122.55L117.37,122.41M117.67,121.40L117.84,120.83L118.01,120.25L118.18,119.68L118.22,119.53M118.52,118.53L118.69,117.95L118.86,117.37L119.03,116.80M119.37,115.65L119.54,115.07L119.71,114.50L119.88,113.92M120.22,112.77L120.39,112.20L120.56,111.62L120.73,111.04M121.07,109.89L121.24,109.32L121.41,108.74L121.58,108.17M121.91,107.02L122.08,106.44L122.25,105.87L122.42,105.29M122.76,104.14L122.93,103.56L123.10,102.99L123.27,102.41M123.61,101.26L123.78,100.69L123.95,100.11L124.12,99.54M124.46,98.38L124.63,97.81L124.80,97.23L124.97,96.66M125.31,95.51L125.48,94.93L125.65,94.36L125.82,93.78M126.16,92.63L126.33,92.05L126.50,91.48L126.67,90.90M127.01,89.75L127.18,89.18L127.35,88.60L127.52,88.03M127.86,86.88L128.03,86.30L128.20,85.72L128.37,85.15M128.71,84.00L128.88,83.42L129.05,82.85L129.22,82.27M129.56,81.12L129.73,80.55L129.90,79.97L130.07,79.39M130.41,78.24L130.58,77.67L130.75,77.09L130.92,76.52M131.26,75.37L131.43,74.79L131.60,74.22L131.77,73.64M132.11,72.49L132.28,71.91L132.45,71.34L132.62,70.76M132.96,69.61L133.13,69.04L133.30,68.46L133.47,67.89M133.81,66.73L133.98,66.16L134.15,65.58L134.32,65.01M134.66,63.86L134.82,63.28L134.99,62.71L135.16,62.13M135.50,60.98L135.67,60.40L135.84,59.83L136.01,59.25M136.35,58.10L136.52,57.53L136.69,56.95L136.86,56.38M137.20,55.23L137.37,54.65L137.54,54.07L137.71,53.50M138.05,52.35L138.22,51.77L138.39,51.20L138.56,50.62M138.90,49.47L139.07,48.90L139.24,48.32L139.41,47.74M139.75,46.59L139.92,46.02L140.09,45.44L140.26,44.87M140.56,43.86L140.73,43.28L140.90,42.71L141.07,42.13L141.11,41.99M141.41,40.98L141.58,40.41L141.75,39.83L141.92,39.26L141.96,39.11M142.26,38.11L142.43,37.53L142.60,36.95L142.77,36.38L142.81,36.24M143.11,35.23L143.28,34.65L143.45,34.08L143.62,33.50L143.66,33.36M143.96,32.35L144.13,31.78L144.30,31.20L144.46,30.62L144.51,30.48M144.80,29.47L144.86,29.72L144.86,30.32L144.86,30.92L144.86,31.07M144.86,32.12L144.86,32.72L144.86,33.32L144.87,33.92M144.87,35.12L144.88,35.72L144.88,36.32L144.89,36.92M144.90,38.12L144.90,38.72L144.91,39.32L144.91,39.92M144.93,40.97L144.93,41.57L144.94,42.17L144.95,42.77M144.97,43.97L144.98,44.57L144.99,45.17L145.00,45.77M145.02,46.97L145.03,47.57L145.05,48.17L145.06,48.77M145.08,49.82L145.10,50.42L145.11,51.02L145.12,51.62M145.16,52.82L145.17,53.42L145.19,54.02L145.21,54.62M145.24,55.81L145.26,56.41L145.28,57.01L145.30,57.61M145.33,58.66L145.35,59.26L145.38,59.86L145.40,60.46M145.44,61.66L145.47,62.26L145.49,62.86L145.51,63.46M145.56,64.66L145.59,65.26L145.62,65.86L145.64,66.46M145.69,67.51L145.72,68.11L145.75,68.70L145.78,69.30M145.84,70.50L145.87,71.10L145.90,71.70L145.93,72.30M146.00,73.50L146.04,74.10L146.07,74.70L146.10,75.30M146.17,76.34L146.20,76.94L146.24,77.54L146.28,78.14M146.36,79.34L146.40,79.94L146.44,80.53L146.48,81.13M146.56,82.33L146.61,82.93L146.65,83.53L146.70,84.13M146.79,85.32L146.83,85.92L146.88,86.52L146.93,87.12M147.01,88.16L147.06,88.76L147.11,89.36L147.16,89.96M147.27,91.15L147.32,91.75L147.37,92.35L147.43,92.94M147.54,94.14L147.60,94.74L147.65,95.33L147.71,95.93M147.82,96.98L147.88,97.57L147.94,98.17L148.00,98.77M148.13,99.96L148.19,100.56L148.25,101.15L148.32,101.75M148.45,102.94L148.52,103.54L148.59,104.13L148.66,104.73M148.79,105.77L148.86,106.37L148.93,106.96L149.01,107.56M149.16,108.75L149.23,109.34L149.31,109.94L149.39,110.53M149.55,111.72L149.63,112.32L149.71,112.91L149.80,113.51M149.97,114.69L150.05,115.29L150.14,115.88L150.23,116.48M150.38,117.51L150.47,118.11L150.56,118.70L150.66,119.29M150.84,120.48L150.94,121.07L151.04,121.66L151.13,122.25M151.33,123.44L151.43,124.03L151.54,124.62L151.64,125.21M151.85,126.39L151.96,126.98L152.06,127.57L152.17,128.16M152.36,129.20L152.48,129.79L152.59,130.38L152.70,130.96L152.73,131.11M152.93,132.14L153.05,132.73L153.17,133.32L153.29,133.91M153.53,135.08L153.66,135.67L153.78,136.26L153.91,136.84M154.17,138.01L154.30,138.60L154.43,139.19L154.56,139.77M154.83,140.94L154.97,141.52L155.10,142.11L155.24,142.69M155.53,143.86L155.67,144.44L155.81,145.02L155.96,145.60M156.26,146.77L156.41,147.35L156.56,147.93L156.71,148.51M156.99,149.52L157.14,150.10L157.30,150.68L157.46,151.26L157.50,151.40M157.79,152.41L157.95,152.99L158.12,153.57L158.29,154.14L158.33,154.29M158.63,155.29L158.80,155.87L158.98,156.44L159.15,157.01L159.20,157.16M159.51,158.16L159.69,158.73L159.88,159.30L160.06,159.87L160.11,160.02M160.43,161.01L160.62,161.58L160.81,162.15L161.01,162.72L161.06,162.86M161.40,163.86L161.60,164.42L161.80,164.99L162.00,165.55L162.05,165.69M162.46,166.82L162.67,167.38L162.88,167.95L163.09,168.51M163.52,169.63L163.73,170.19L163.95,170.75L164.17,171.31M164.62,172.42L164.84,172.97L165.07,173.53L165.30,174.08M165.77,175.19L166.01,175.74L166.24,176.29L166.48,176.84M166.97,177.94L167.22,178.49L167.46,179.03L167.71,179.58L167.78,179.71M168.29,180.80L168.54,181.34L168.80,181.88L169.06,182.43M169.59,183.50L169.86,184.04L170.13,184.58L170.40,185.11L170.47,185.24M171.02,186.31L171.30,186.84L171.58,187.37L171.86,187.90M172.43,188.96L172.72,189.48L173.01,190.01L173.30,190.53L173.38,190.66M173.97,191.70L174.27,192.22L174.58,192.74L174.88,193.26M175.50,194.29L175.81,194.80L176.12,195.31L176.44,195.82L176.52,195.95M177.16,196.96L177.48,197.47L177.81,197.97L178.14,198.47L178.22,198.60M178.88,199.60L179.22,200.10L179.55,200.59L179.90,201.09L179.98,201.21M180.67,202.20L181.01,202.68L181.36,203.17L181.71,203.66L181.80,203.78M182.51,204.75L182.87,205.23L183.23,205.71L183.59,206.19L183.69,206.31M184.42,207.26L184.79,207.73L185.16,208.20L185.54,208.67L185.63,208.78M186.48,209.83L186.86,210.29L187.25,210.76L187.63,211.21L187.73,211.33M188.51,212.24L188.90,212.69L189.30,213.15L189.69,213.60L189.79,213.71M190.60,214.60L191.00,215.04L191.41,215.49L191.81,215.93L192.02,216.15M192.84,217.02L193.26,217.45L193.68,217.88L194.10,218.31L194.20,218.42M195.15,219.38L195.58,219.80L196.01,220.22L196.44,220.64L196.54,220.74M197.52,221.68L197.95,222.09L198.39,222.50L198.83,222.90L198.94,223.01M199.94,223.92L200.39,224.32L200.84,224.71L201.29,225.11L201.40,225.21M202.42,226.10L202.87,226.49L203.33,226.87L203.79,227.26L204.02,227.45M204.95,228.21L205.41,228.59L205.88,228.97L206.35,229.35L206.58,229.53M207.64,230.37L208.12,230.73L208.59,231.10L209.07,231.46L209.19,231.55M210.27,232.36L210.75,232.72L211.24,233.07L211.72,233.43L211.97,233.60M213.07,234.39L213.56,234.73L214.05,235.08L214.54,235.42L214.79,235.59M215.91,236.35L216.40,236.68L216.90,237.01L217.40,237.34L217.65,237.51M218.66,238.16L219.17,238.49L219.67,238.81L220.18,239.13L220.56,239.37M221.58,240.00L222.09,240.31L222.61,240.62L223.12,240.93L223.51,241.16M224.54,241.78L225.06,242.08L225.58,242.38L226.10,242.68L226.49,242.90M227.66,243.57L228.19,243.86L228.71,244.15L229.24,244.44L229.50,244.58M230.69,245.22L231.22,245.51L231.75,245.79L232.28,246.07L232.54,246.21M233.74,246.83L234.28,247.10L234.81,247.37L235.35,247.64L235.75,247.84M236.96,248.44L237.50,248.71L238.04,248.97L238.58,249.23L238.98,249.42M240.20,250.00L240.75,250.25L241.29,250.51L241.84,250.76L242.11,250.88M243.34,251.44L243.89,251.69L244.43,251.93L244.98,252.18L245.39,252.36M246.63,252.90L247.18,253.13L247.73,253.37L248.29,253.60L248.70,253.78M249.95,254.30L250.50,254.53L251.06,254.76L251.61,254.98L252.03,255.15M253.28,255.65L253.84,255.88L254.40,256.10L254.96,256.31L255.24,256.42M256.64,256.96L257.20,257.18L257.76,257.39L258.32,257.60L258.60,257.71M260.01,258.23L260.57,258.43L261.13,258.64L261.70,258.84L261.98,258.94M263.39,259.45L263.96,259.65L264.53,259.85L265.09,260.04L265.52,260.19M266.79,260.63L267.36,260.82L267.93,261.01L268.50,261.20L268.93,261.35M270.21,261.77L270.78,261.96L271.35,262.14L271.92,262.33L272.35,262.46M273.64,262.87L274.21,263.05L274.78,263.23L275.35,263.41L275.78,263.54M277.07,263.94L277.65,264.12L278.22,264.29L278.80,264.46L279.23,264.59M280.67,265.02L281.24,265.18L281.82,265.35L282.39,265.52L282.83,265.64M284.12,266.02L284.70,266.18L285.28,266.34L285.86,266.50L286.29,266.62M287.59,266.98L288.17,267.14L288.75,267.30L289.33,267.46L289.76,267.57M291.21,267.96L291.79,268.11L292.37,268.26L292.95,268.42L293.39,268.53M294.70,268.87L295.28,269.02L295.86,269.16L296.44,269.31L296.88,269.42M298.33,269.78L298.92,269.93L299.50,270.07L300.08,270.21L300.52,270.32M301.83,270.64L302.41,270.78L303.00,270.91L303.58,271.05L304.02,271.16M305.48,271.50L306.06,271.63L306.65,271.77L307.23,271.90L307.67,272.00M308.99,272.30L309.57,272.43L310.16,272.56L310.75,272.69L311.19,272.79M312.65,273.11L313.24,273.24L313.82,273.37L314.41,273.49L314.85,273.59M316.17,273.87L316.76,273.99L317.34,274.11L317.93,274.24L318.37,274.33M319.84,274.63L320.43,274.75L321.02,274.87L321.61,274.99L322.05,275.08M323.37,275.35L323.96,275.46L324.55,275.58L325.14,275.70L325.72,275.81M327.05,276.07L327.64,276.18L328.23,276.30L328.82,276.41L329.26,276.49M330.59,276.74L331.18,276.85L331.77,276.96L332.36,277.07L332.95,277.18M334.27,277.43L334.86,277.53L335.45,277.64L336.04,277.75L336.49,277.83M337.96,278.09L338.55,278.20L339.15,278.30L339.74,278.40L340.18,278.48M341.51,278.71L342.10,278.81L342.69,278.92L343.28,279.02L343.88,279.12M345.21,279.34L345.80,279.44L346.39,279.54L346.98,279.64L347.43,279.71M348.91,279.95L349.50,280.05L350.09,280.15L350.68,280.24L351.13,280.31M352.46,280.53L353.05,280.62L353.65,280.72L354.24,280.81L354.83,280.90M356.16,281.11L356.76,281.20L357.35,281.29L357.94,281.38L358.54,281.47M359.87,281.68L360.46,281.77L361.06,281.86L361.65,281.94L362.10,282.01M363.58,282.23L364.17,282.32L364.77,282.40L365.36,282.49L365.81,282.56M367.14,282.75L367.74,282.83L368.33,282.92L368.93,283.00L369.52,283.09M370.86,283.27L371.45,283.36L372.04,283.44L372.64,283.52L373.08,283.58M374.57,283.79L375.17,283.87" fill="none" stroke="#000" stroke-width="2.0"/></g><g clip-path="url(#cr)"><g fill="#5e81b5"><circle cx="488.35" cy="17.20" r="2.15"/><circle cx="489.15" cy="17.21" r="2.15"/><circle cx="489.94" cy="17.23" r="2.15"/><circle cx="490.74" cy="17.26" r="2.15"/><circle cx="491.53" cy="17.30" r="2.15"/><circle cx="492.33" cy="17.36" r="2.15"/><circle cx="493.12" cy="17.43" r="2.15"/><circle cx="493.92" cy="17.51" r="2.15"/><circle cx="494.71" cy="17.61" r="2.15"/><circle cx="495.51" cy="17.72" r="2.15"/><circle cx="496.31" cy="17.84" r="2.15"/><circle cx="497.10" cy="17.97" r="2.15"/><circle cx="497.90" cy="18.12" r="2.15"/><circle cx="498.69" cy="18.28" r="2.15"/><circle cx="499.49" cy="18.45" r="2.15"/><circle cx="500.28" cy="18.64" r="2.15"/><circle cx="501.08" cy="18.84" r="2.15"/><circle cx="501.88" cy="19.05" r="2.15"/><circle cx="502.67" cy="19.28" r="2.15"/><circle cx="503.47" cy="19.52" r="2.15"/><circle cx="504.26" cy="19.77" r="2.15"/><circle cx="505.06" cy="20.03" r="2.15"/><circle cx="505.85" cy="20.31" r="2.15"/><circle cx="506.65" cy="20.61" r="2.15"/><circle cx="507.44" cy="20.91" r="2.15"/><circle cx="508.24" cy="21.23" r="2.15"/><circle cx="509.04" cy="21.57" r="2.15"/><circle cx="509.83" cy="21.91" r="2.15"/><circle cx="510.63" cy="22.28" r="2.15"/><circle cx="511.42" cy="22.65" r="2.15"/><circle cx="512.22" cy="23.04" r="2.15"/><circle cx="513.01" cy="23.45" r="2.15"/><circle cx="513.81" cy="23.86" r="2.15"/><circle cx="514.60" cy="24.30" r="2.15"/><circle cx="515.40" cy="24.75" r="2.15"/><circle cx="516.20" cy="25.21" r="2.15"/><circle cx="516.99" cy="25.69" r="2.15"/><circle cx="517.79" cy="26.18" r="2.15"/><circle cx="518.58" cy="26.69" r="2.15"/><circle cx="519.38" cy="27.21" r="2.15"/><circle cx="520.17" cy="27.75" r="2.15"/><circle cx="520.97" cy="28.30" r="2.15"/><circle cx="521.77" cy="28.88" r="2.15"/><circle cx="522.56" cy="29.46" r="2.15"/><circle cx="523.36" cy="30.07" r="2.15"/><circle cx="524.15" cy="30.68" r="2.15"/><circle cx="524.95" cy="31.32" r="2.15"/><circle cx="525.74" cy="31.97" r="2.15"/><circle cx="526.54" cy="32.65" r="2.15"/><circle cx="527.33" cy="33.33" r="2.15"/><circle cx="528.13" cy="34.04" r="2.15"/><circle cx="528.93" cy="34.76" r="2.15"/><circle cx="529.72" cy="35.51" r="2.15"/><circle cx="530.52" cy="36.27" r="2.15"/><circle cx="531.31" cy="37.05" r="2.15"/><circle cx="532.11" cy="37.85" r="2.15"/><circle cx="532.90" cy="38.66" r="2.15"/><circle cx="533.70" cy="39.50" r="2.15"/><circle cx="534.49" cy="40.36" r="2.15"/><circle cx="535.29" cy="41.24" r="2.15"/><circle cx="536.09" cy="42.14" r="2.15"/><circle cx="536.88" cy="43.07" r="2.15"/><circle cx="537.68" cy="44.01" r="2.15"/><circle cx="538.47" cy="44.98" r="2.15"/><circle cx="539.27" cy="45.97" r="2.15"/><circle cx="540.06" cy="46.98" r="2.15"/><circle cx="540.86" cy="48.02" r="2.15"/><circle cx="541.66" cy="49.08" r="2.15"/><circle cx="542.45" cy="50.17" r="2.15"/><circle cx="543.25" cy="51.29" r="2.15"/><circle cx="544.04" cy="52.43" r="2.15"/><circle cx="544.84" cy="53.60" r="2.15"/><circle cx="545.63" cy="54.80" r="2.15"/><circle cx="546.43" cy="56.02" r="2.15"/><circle cx="547.22" cy="57.28" r="2.15"/><circle cx="548.02" cy="58.57" r="2.15"/><circle cx="548.82" cy="59.89" r="2.15"/><circle cx="549.61" cy="61.25" r="2.15"/><circle cx="550.41" cy="62.64" r="2.15"/><circle cx="551.20" cy="64.07" r="2.15"/><circle cx="552.00" cy="65.53" r="2.15"/><circle cx="552.79" cy="67.04" r="2.15"/><circle cx="553.59" cy="68.58" r="2.15"/><circle cx="554.38" cy="70.17" r="2.15"/><circle cx="555.18" cy="71.81" r="2.15"/><circle cx="555.98" cy="73.49" r="2.15"/><circle cx="556.77" cy="75.22" r="2.15"/><circle cx="557.57" cy="77.00" r="2.15"/><circle cx="558.36" cy="78.84" r="2.15"/><circle cx="559.16" cy="80.74" r="2.15"/><circle cx="559.95" cy="82.70" r="2.15"/><circle cx="560.75" cy="84.73" r="2.15"/><circle cx="561.55" cy="86.83" r="2.15"/><circle cx="562.34" cy="89.00" r="2.15"/><circle cx="563.14" cy="91.26" r="2.15"/><circle cx="563.93" cy="93.62" r="2.15"/><circle cx="564.73" cy="96.07" r="2.15"/><circle cx="565.52" cy="98.63" r="2.15"/><circle cx="566.32" cy="101.31" r="2.15"/><circle cx="567.11" cy="104.13" r="2.15"/><circle cx="567.91" cy="107.10" r="2.15"/><circle cx="568.71" cy="110.25" r="2.15"/><circle cx="569.50" cy="113.61" r="2.15"/><circle cx="570.30" cy="117.21" r="2.15"/><circle cx="571.09" cy="121.10" r="2.15"/><circle cx="571.89" cy="124.98" r="2.15"/><circle cx="572.68" cy="128.90" r="2.15"/><circle cx="573.48" cy="132.68" r="2.15"/><circle cx="574.27" cy="136.43" r="2.15"/><circle cx="575.07" cy="140.22" r="2.15"/><circle cx="575.87" cy="144.02" r="2.15"/><circle cx="576.66" cy="147.79" r="2.15"/><circle cx="577.46" cy="151.55" r="2.15"/><circle cx="578.25" cy="155.28" r="2.15"/><circle cx="579.05" cy="158.85" r="2.15"/><circle cx="579.84" cy="162.25" r="2.15"/><circle cx="580.64" cy="165.58" r="2.15"/><circle cx="581.44" cy="168.68" r="2.15"/><circle cx="582.23" cy="171.40" r="2.15"/><circle cx="583.03" cy="173.64" r="2.15"/><circle cx="583.82" cy="175.65" r="2.15"/><circle cx="584.62" cy="177.69" r="2.15"/><circle cx="585.41" cy="179.71" r="2.15"/><circle cx="586.21" cy="181.47" r="2.15"/><circle cx="587.00" cy="183.02" r="2.15"/><circle cx="587.80" cy="184.31" r="2.15"/><circle cx="588.60" cy="185.56" r="2.15"/><circle cx="589.39" cy="186.36" r="2.15"/><circle cx="590.19" cy="186.15" r="2.15"/><circle cx="590.98" cy="185.27" r="2.15"/><circle cx="591.78" cy="184.23" r="2.15"/><circle cx="592.57" cy="183.20" r="2.15"/><circle cx="593.37" cy="182.03" r="2.15"/><circle cx="594.16" cy="180.77" r="2.15"/><circle cx="594.96" cy="179.46" r="2.15"/><circle cx="595.76" cy="178.02" r="2.15"/><circle cx="596.55" cy="176.53" r="2.15"/><circle cx="597.35" cy="175.12" r="2.15"/><circle cx="598.14" cy="173.83" r="2.15"/><circle cx="598.94" cy="172.59" r="2.15"/><circle cx="599.73" cy="171.40" r="2.15"/><circle cx="600.53" cy="170.20" r="2.15"/><circle cx="601.33" cy="169.04" r="2.15"/><circle cx="602.12" cy="168.07" r="2.15"/><circle cx="602.92" cy="167.24" r="2.15"/><circle cx="603.71" cy="166.52" r="2.15"/><circle cx="604.51" cy="166.00" r="2.15"/><circle cx="605.30" cy="165.59" r="2.15"/><circle cx="606.10" cy="165.22" r="2.15"/><circle cx="606.89" cy="164.91" r="2.15"/><circle cx="607.69" cy="164.70" r="2.15"/><circle cx="608.49" cy="164.60" r="2.15"/><circle cx="609.28" cy="164.63" r="2.15"/><circle cx="610.08" cy="164.73" r="2.15"/><circle cx="610.87" cy="164.87" r="2.15"/><circle cx="611.67" cy="165.04" r="2.15"/><circle cx="612.46" cy="165.29" r="2.15"/><circle cx="613.26" cy="165.62" r="2.15"/><circle cx="614.05" cy="165.98" r="2.15"/><circle cx="614.85" cy="166.37" r="2.15"/><circle cx="615.65" cy="166.80" r="2.15"/><circle cx="616.44" cy="167.28" r="2.15"/><circle cx="617.24" cy="167.77" r="2.15"/><circle cx="618.03" cy="168.26" r="2.15"/><circle cx="618.83" cy="168.73" r="2.15"/><circle cx="619.62" cy="169.16" r="2.15"/><circle cx="620.42" cy="169.56" r="2.15"/><circle cx="621.22" cy="169.95" r="2.15"/><circle cx="622.01" cy="170.33" r="2.15"/><circle cx="622.81" cy="170.69" r="2.15"/><circle cx="623.60" cy="171.02" r="2.15"/><circle cx="624.40" cy="171.34" r="2.15"/><circle cx="625.19" cy="171.63" r="2.15"/><circle cx="625.99" cy="171.91" r="2.15"/><circle cx="626.78" cy="172.18" r="2.15"/><circle cx="627.58" cy="172.43" r="2.15"/><circle cx="628.38" cy="172.66" r="2.15"/><circle cx="629.17" cy="172.87" r="2.15"/><circle cx="629.97" cy="173.09" r="2.15"/><circle cx="630.76" cy="173.32" r="2.15"/><circle cx="631.56" cy="173.55" r="2.15"/><circle cx="632.35" cy="173.75" r="2.15"/><circle cx="633.15" cy="173.93" r="2.15"/><circle cx="633.94" cy="174.08" r="2.15"/><circle cx="634.74" cy="174.17" r="2.15"/><circle cx="635.54" cy="174.20" r="2.15"/><circle cx="636.33" cy="174.19" r="2.15"/><circle cx="637.13" cy="174.16" r="2.15"/><circle cx="637.92" cy="174.12" r="2.15"/><circle cx="638.72" cy="174.06" r="2.15"/><circle cx="639.51" cy="174.00" r="2.15"/><circle cx="640.31" cy="173.92" r="2.15"/><circle cx="641.11" cy="173.83" r="2.15"/><circle cx="641.90" cy="173.74" r="2.15"/><circle cx="642.70" cy="173.64" r="2.15"/><circle cx="643.49" cy="173.52" r="2.15"/><circle cx="644.29" cy="173.32" r="2.15"/><circle cx="645.08" cy="173.05" r="2.15"/><circle cx="645.88" cy="172.75" r="2.15"/><circle cx="646.67" cy="172.42" r="2.15"/><circle cx="647.47" cy="172.10" r="2.15"/><circle cx="648.27" cy="171.80" r="2.15"/><circle cx="649.06" cy="171.54" r="2.15"/><circle cx="649.86" cy="171.35" r="2.15"/><circle cx="650.65" cy="171.24" r="2.15"/><circle cx="651.45" cy="171.15" r="2.15"/><circle cx="652.24" cy="171.07" r="2.15"/><circle cx="653.04" cy="171.00" r="2.15"/><circle cx="653.83" cy="170.94" r="2.15"/><circle cx="654.63" cy="170.88" r="2.15"/><circle cx="655.43" cy="170.83" r="2.15"/><circle cx="656.22" cy="170.78" r="2.15"/><circle cx="657.02" cy="170.73" r="2.15"/><circle cx="657.81" cy="170.68" r="2.15"/><circle cx="658.61" cy="170.63" r="2.15"/><circle cx="659.40" cy="170.58" r="2.15"/><circle cx="660.20" cy="170.53" r="2.15"/><circle cx="661.00" cy="170.48" r="2.15"/><circle cx="661.79" cy="170.43" r="2.15"/><circle cx="662.59" cy="170.39" r="2.15"/><circle cx="663.38" cy="170.36" r="2.15"/><circle cx="664.18" cy="170.33" r="2.15"/><circle cx="664.97" cy="170.31" r="2.15"/><circle cx="665.77" cy="170.30" r="2.15"/><circle cx="666.56" cy="170.30" r="2.15"/><circle cx="667.36" cy="170.33" r="2.15"/><circle cx="668.16" cy="170.36" r="2.15"/><circle cx="668.95" cy="170.41" r="2.15"/><circle cx="669.75" cy="170.47" r="2.15"/><circle cx="670.54" cy="170.53" r="2.15"/><circle cx="671.34" cy="170.59" r="2.15"/><circle cx="672.13" cy="170.66" r="2.15"/><circle cx="672.93" cy="170.72" r="2.15"/><circle cx="673.72" cy="170.78" r="2.15"/><circle cx="674.52" cy="170.83" r="2.15"/><circle cx="675.32" cy="170.89" r="2.15"/><circle cx="676.11" cy="170.95" r="2.15"/><circle cx="676.91" cy="171.01" r="2.15"/><circle cx="677.70" cy="171.06" r="2.15"/><circle cx="678.50" cy="171.12" r="2.15"/><circle cx="679.29" cy="171.17" r="2.15"/><circle cx="680.09" cy="171.22" r="2.15"/><circle cx="680.89" cy="171.27" r="2.15"/><circle cx="681.68" cy="171.30" r="2.15"/><circle cx="682.48" cy="171.34" r="2.15"/><circle cx="683.27" cy="171.37" r="2.15"/><circle cx="684.07" cy="171.40" r="2.15"/><circle cx="684.86" cy="171.43" r="2.15"/><circle cx="685.66" cy="171.46" r="2.15"/><circle cx="686.45" cy="171.49" r="2.15"/><circle cx="687.25" cy="171.51" r="2.15"/><circle cx="688.05" cy="171.53" r="2.15"/><circle cx="688.84" cy="171.54" r="2.15"/><circle cx="689.64" cy="171.55" r="2.15"/><circle cx="690.43" cy="171.55" r="2.15"/><circle cx="691.23" cy="171.55" r="2.15"/><circle cx="692.02" cy="171.54" r="2.15"/><circle cx="692.82" cy="171.53" r="2.15"/><circle cx="693.61" cy="171.51" r="2.15"/><circle cx="694.41" cy="171.50" r="2.15"/><circle cx="695.21" cy="171.48" r="2.15"/><circle cx="696.00" cy="171.47" r="2.15"/><circle cx="696.80" cy="171.45" r="2.15"/><circle cx="697.59" cy="171.44" r="2.15"/><circle cx="698.39" cy="171.42" r="2.15"/><circle cx="699.18" cy="171.41" r="2.15"/><circle cx="699.98" cy="171.40" r="2.15"/><circle cx="700.78" cy="171.39" r="2.15"/><circle cx="701.57" cy="171.38" r="2.15"/><circle cx="702.37" cy="171.37" r="2.15"/><circle cx="703.16" cy="171.36" r="2.15"/><circle cx="703.96" cy="171.36" r="2.15"/><circle cx="704.75" cy="171.35" r="2.15"/><circle cx="705.55" cy="171.34" r="2.15"/><circle cx="706.34" cy="171.33" r="2.15"/><circle cx="707.14" cy="171.32" r="2.15"/><circle cx="707.94" cy="171.32" r="2.15"/><circle cx="708.73" cy="171.31" r="2.15"/><circle cx="709.53" cy="171.31" r="2.15"/><circle cx="710.32" cy="171.30" r="2.15"/><circle cx="711.12" cy="171.30" r="2.15"/><circle cx="711.91" cy="171.30" r="2.15"/><circle cx="712.71" cy="171.30" r="2.15"/><circle cx="713.50" cy="171.30" r="2.15"/><circle cx="714.30" cy="171.30" r="2.15"/><circle cx="715.10" cy="171.30" r="2.15"/><circle cx="715.89" cy="171.30" r="2.15"/><circle cx="716.69" cy="171.30" r="2.15"/><circle cx="717.48" cy="171.30" r="2.15"/><circle cx="718.28" cy="171.30" r="2.15"/><circle cx="719.07" cy="171.30" r="2.15"/><circle cx="719.87" cy="171.30" r="2.15"/><circle cx="720.67" cy="171.30" r="2.15"/><circle cx="721.46" cy="171.30" r="2.15"/><circle cx="722.26" cy="171.30" r="2.15"/><circle cx="723.05" cy="171.30" r="2.15"/><circle cx="723.85" cy="171.30" r="2.15"/><circle cx="724.64" cy="171.30" r="2.15"/><circle cx="725.44" cy="171.30" r="2.15"/><circle cx="726.23" cy="171.30" r="2.15"/><circle cx="727.03" cy="171.30" r="2.15"/><circle cx="727.83" cy="171.30" r="2.15"/><circle cx="728.62" cy="171.30" r="2.15"/><circle cx="729.42" cy="171.30" r="2.15"/><circle cx="730.21" cy="171.30" r="2.15"/><circle cx="731.01" cy="171.30" r="2.15"/><circle cx="731.80" cy="171.30" r="2.15"/><circle cx="732.60" cy="171.30" r="2.15"/><circle cx="733.39" cy="171.30" r="2.15"/><circle cx="734.19" cy="171.30" r="2.15"/><circle cx="734.99" cy="171.30" r="2.15"/><circle cx="735.78" cy="171.30" r="2.15"/><circle cx="736.58" cy="171.30" r="2.15"/><circle cx="737.37" cy="171.30" r="2.15"/><circle cx="738.17" cy="171.30" r="2.15"/><circle cx="738.96" cy="171.30" r="2.15"/><circle cx="739.76" cy="171.30" r="2.15"/><circle cx="740.56" cy="171.30" r="2.15"/><circle cx="741.35" cy="171.30" r="2.15"/><circle cx="742.15" cy="171.30" r="2.15"/><circle cx="742.94" cy="171.30" r="2.15"/><circle cx="743.74" cy="171.30" r="2.15"/><circle cx="744.53" cy="171.30" r="2.15"/><circle cx="745.33" cy="171.30" r="2.15"/><circle cx="746.12" cy="171.30" r="2.15"/><circle cx="746.92" cy="171.30" r="2.15"/><circle cx="747.72" cy="171.30" r="2.15"/><circle cx="748.51" cy="171.30" r="2.15"/><circle cx="749.31" cy="171.30" r="2.15"/><circle cx="750.10" cy="171.30" r="2.15"/><circle cx="750.90" cy="171.30" r="2.15"/><circle cx="751.69" cy="171.30" r="2.15"/><circle cx="752.49" cy="171.30" r="2.15"/><circle cx="753.28" cy="171.30" r="2.15"/><circle cx="754.08" cy="171.30" r="2.15"/><circle cx="754.88" cy="171.30" r="2.15"/><circle cx="755.67" cy="171.30" r="2.15"/><circle cx="756.47" cy="171.30" r="2.15"/><circle cx="757.26" cy="171.30" r="2.15"/><circle cx="758.06" cy="171.30" r="2.15"/><circle cx="758.85" cy="171.30" r="2.15"/><circle cx="759.65" cy="171.30" r="2.15"/><circle cx="760.45" cy="171.30" r="2.15"/><circle cx="761.24" cy="171.30" r="2.15"/><circle cx="762.04" cy="171.30" r="2.15"/><circle cx="762.83" cy="171.30" r="2.15"/><circle cx="763.63" cy="171.30" r="2.15"/><circle cx="764.42" cy="171.30" r="2.15"/><circle cx="765.22" cy="171.30" r="2.15"/><circle cx="766.01" cy="171.30" r="2.15"/><circle cx="766.81" cy="171.30" r="2.15"/><circle cx="767.61" cy="171.30" r="2.15"/><circle cx="768.40" cy="171.30" r="2.15"/><circle cx="769.20" cy="171.30" r="2.15"/><circle cx="769.99" cy="171.30" r="2.15"/><circle cx="770.79" cy="171.30" r="2.15"/><circle cx="771.58" cy="171.30" r="2.15"/><circle cx="772.38" cy="171.30" r="2.15"/><circle cx="773.17" cy="171.30" r="2.15"/><circle cx="773.97" cy="171.30" r="2.15"/><circle cx="774.77" cy="171.30" r="2.15"/><circle cx="775.56" cy="171.30" r="2.15"/><circle cx="776.36" cy="171.30" r="2.15"/><circle cx="777.15" cy="171.30" r="2.15"/><circle cx="777.95" cy="171.30" r="2.15"/><circle cx="778.74" cy="171.30" r="2.15"/><circle cx="779.54" cy="171.30" r="2.15"/><circle cx="780.34" cy="171.30" r="2.15"/><circle cx="781.13" cy="171.30" r="2.15"/><circle cx="781.93" cy="171.30" r="2.15"/><circle cx="782.72" cy="171.30" r="2.15"/><circle cx="783.52" cy="171.30" r="2.15"/><circle cx="784.31" cy="171.30" r="2.15"/><circle cx="785.11" cy="171.30" r="2.15"/><circle cx="785.90" cy="171.30" r="2.15"/><circle cx="786.70" cy="171.30" r="2.15"/><circle cx="787.50" cy="171.30" r="2.15"/><circle cx="788.29" cy="171.30" r="2.15"/><circle cx="789.09" cy="171.30" r="2.15"/><circle cx="789.88" cy="171.30" r="2.15"/><circle cx="790.68" cy="171.30" r="2.15"/><circle cx="791.47" cy="171.30" r="2.15"/><circle cx="792.27" cy="171.30" r="2.15"/><circle cx="793.06" cy="171.30" r="2.15"/><circle cx="793.86" cy="171.30" r="2.15"/><circle cx="794.66" cy="171.30" r="2.15"/><circle cx="795.45" cy="171.30" r="2.15"/><circle cx="796.25" cy="171.30" r="2.15"/><circle cx="797.04" cy="171.30" r="2.15"/><circle cx="797.84" cy="171.30" r="2.15"/><circle cx="798.63" cy="171.30" r="2.15"/><circle cx="799.43" cy="171.30" r="2.15"/><circle cx="800.23" cy="171.30" r="2.15"/><circle cx="801.02" cy="171.30" r="2.15"/><circle cx="801.82" cy="171.30" r="2.15"/><circle cx="802.61" cy="171.30" r="2.15"/><circle cx="803.41" cy="171.30" r="2.15"/><circle cx="804.20" cy="171.30" r="2.15"/><circle cx="805.00" cy="171.30" r="2.15"/><circle cx="805.79" cy="171.30" r="2.15"/><circle cx="806.59" cy="171.30" r="2.15"/></g><path d="M488.79,426.01L488.79,425.41L488.79,424.81L488.79,424.21L488.79,423.61L488.79,423.01L488.79,422.86M488.79,420.91L488.79,420.31L488.79,419.71L488.80,419.11L488.80,418.51L488.80,417.91L488.80,417.31L488.80,416.86M488.80,414.91L488.80,414.31L488.80,413.71L488.80,413.11L488.80,412.51L488.80,411.91L488.80,411.31L488.80,410.86M488.81,408.76L488.81,408.16L488.81,407.56L488.81,406.96L488.81,406.36L488.81,405.76L488.81,405.16L488.81,404.71M488.81,402.76L488.81,402.16L488.81,401.56L488.82,400.96L488.82,400.36L488.82,399.76L488.82,399.16L488.82,398.71M488.82,396.76L488.82,396.16L488.82,395.56L488.82,394.96L488.82,394.36L488.82,393.76L488.82,393.16L488.82,392.71M488.83,390.61L488.83,390.01L488.83,389.41L488.83,388.81L488.83,388.21L488.83,387.61L488.83,387.01L488.83,386.56M488.83,384.61L488.83,384.01L488.83,383.41L488.83,382.81L488.84,382.21L488.84,381.61L488.84,381.01L488.84,380.56M488.84,378.61L488.84,378.01L488.84,377.41L488.84,376.81L488.84,376.21L488.84,375.61L488.84,375.01L488.84,374.56M488.85,372.46L488.85,371.86L488.85,371.26L488.85,370.66L488.85,370.06L488.85,369.46L488.85,368.86L488.85,368.41M488.85,366.46L488.85,365.86L488.85,365.26L488.85,364.66L488.86,364.06L488.86,363.46L488.86,362.86L488.86,362.41M488.86,360.46L488.86,359.86L488.86,359.26L488.86,358.66L488.86,358.06L488.86,357.46L488.86,356.86L488.86,356.41M488.87,354.31L488.87,353.71L488.87,353.11L488.87,352.51L488.87,351.91L488.87,351.31L488.87,350.71L488.87,350.26M488.88,348.31L488.88,347.71L488.88,347.11L488.88,346.51L488.88,345.91L488.88,345.31L488.88,344.71L488.88,344.26M488.89,342.16L488.89,341.56L488.89,340.96L488.89,340.36L488.89,339.76L488.89,339.16L488.89,338.56L488.89,338.11M488.90,336.16L488.90,335.56L488.90,334.96L488.90,334.36L488.90,333.76L488.90,333.16L488.90,332.56L488.90,332.11M488.91,330.16L488.91,329.56L488.91,328.96L488.91,328.36L488.91,327.76L488.91,327.16L488.91,326.56L488.92,326.11M488.92,324.01L488.92,323.41L488.92,322.81L488.92,322.21L488.92,321.61L488.92,321.01L488.93,320.41L488.93,319.96M488.93,318.01L488.93,317.41L488.93,316.81L488.93,316.21L488.93,315.61L488.93,315.01L488.94,314.41L488.94,313.96M488.94,312.01L488.94,311.41L488.94,310.81L488.94,310.21L488.94,309.61L488.95,309.01L488.95,308.41L488.95,307.96M488.95,305.86L488.95,305.26L488.96,304.66L488.96,304.06L488.96,303.46L488.96,302.86L488.96,302.26L488.96,301.81M488.97,299.86L488.97,299.26L488.97,298.66L488.97,298.06L488.98,297.46L488.98,296.86L488.98,296.26L488.98,295.81M488.98,293.86L488.99,293.26L488.99,292.66L488.99,292.06L488.99,291.46L488.99,290.86L488.99,290.26L488.99,289.81M489.00,287.71L489.00,287.11L489.00,286.51L489.01,285.91L489.01,285.31L489.01,284.71L489.01,284.11L489.01,283.66M489.02,281.71L489.02,281.11L489.02,280.51L489.02,279.91L489.02,279.31L489.02,278.71L489.03,278.11L489.03,277.66M489.04,275.71L489.04,275.11L489.04,274.51L489.04,273.91L489.04,273.31L489.05,272.71L489.05,272.11L489.05,271.66M489.06,269.56L489.06,268.96L489.06,268.36L489.06,267.76L489.07,267.16L489.07,266.56L489.07,265.96L489.07,265.51M489.08,263.56L489.08,262.96L489.08,262.36L489.09,261.76L489.09,261.16L489.09,260.56L489.09,259.96L489.09,259.51M489.10,257.56L489.11,256.96L489.11,256.36L489.11,255.76L489.11,255.16L489.12,254.56L489.12,253.96L489.12,253.51M489.13,251.41L489.14,250.81L489.14,250.21L489.14,249.61L489.15,249.01L489.15,248.41L489.15,247.81L489.15,247.36M489.16,245.41L489.17,244.81L489.17,244.21L489.17,243.61L489.18,243.01L489.18,242.41L489.18,241.81L489.18,241.36M489.20,239.41L489.20,238.81L489.21,238.21L489.21,237.61L489.21,237.01L489.22,236.41L489.22,235.81L489.23,235.36M489.24,233.26L489.24,232.66L489.25,232.06L489.25,231.46L489.26,230.86L489.26,230.26L489.26,229.66L489.27,229.21M489.29,227.26L489.29,226.66L489.30,226.06L489.30,225.46L489.31,224.86L489.31,224.26L489.32,223.66L489.32,223.21M489.34,221.26L489.34,220.66L489.35,220.06L489.36,219.46L489.36,218.86L489.37,218.26L489.38,217.66L489.38,217.21M489.41,215.11L489.41,214.51L489.42,213.91L489.43,213.31L489.44,212.71L489.45,212.11L489.45,211.51L489.46,211.06M489.49,209.11L489.50,208.51L489.51,207.91L489.52,207.31L489.53,206.71L489.54,206.11L489.55,205.51L489.55,205.06M489.59,203.11L489.60,202.51L489.61,201.91L489.63,201.31L489.64,200.71L489.65,200.11L489.67,199.51L489.68,199.06M489.73,196.97L489.75,196.37L489.76,195.77L489.78,195.17L489.80,194.57L489.82,193.97L489.84,193.37L489.85,192.92M489.93,190.97L489.95,190.37L489.98,189.77L490.00,189.17L490.03,188.57L490.06,187.97L490.09,187.37L490.12,186.92M490.24,184.98L490.28,184.38L490.33,183.78L490.38,183.18L490.43,182.58L490.49,181.99L490.55,181.39L490.60,180.94M490.89,178.86L491.00,178.27L491.11,177.69L491.25,177.10L491.41,176.52L491.59,175.95L491.80,175.39L491.99,174.98M493.14,173.42L493.62,173.06L494.14,172.76L494.69,172.52L495.25,172.32L495.83,172.17L496.42,172.05L496.87,171.97M498.80,171.75L499.40,171.70L500.00,171.66L500.60,171.63L501.20,171.60L501.80,171.57L502.40,171.55L502.85,171.53M504.94,171.48L505.54,171.46L506.14,171.45L506.74,171.44L507.34,171.44L507.94,171.43L508.54,171.42L508.99,171.41M510.94,171.40L511.54,171.39L512.14,171.39L512.74,171.38L513.34,171.38L513.94,171.38L514.54,171.37L514.99,171.37M516.94,171.36L517.54,171.36L518.14,171.35L518.74,171.35L519.34,171.35L519.94,171.35L520.54,171.35L520.99,171.35M523.09,171.34L523.69,171.34L524.29,171.34L524.89,171.34L525.49,171.34L526.09,171.33L526.69,171.33L527.14,171.33M529.09,171.33L529.69,171.33L530.29,171.33L530.89,171.33L531.49,171.33L532.09,171.33L532.69,171.32L533.14,171.32M535.09,171.32L535.69,171.32L536.29,171.32L536.89,171.32L537.49,171.32L538.09,171.32L538.69,171.32L539.14,171.32M541.24,171.32L541.84,171.32L542.44,171.32L543.04,171.32L543.64,171.32L544.24,171.32L544.84,171.32L545.29,171.32M547.24,171.31L547.84,171.31L548.44,171.31L549.04,171.31L549.64,171.31L550.24,171.31L550.84,171.31L551.29,171.31M553.24,171.31L553.84,171.31L554.44,171.31L555.04,171.31L555.64,171.31L556.24,171.31L556.84,171.31L557.29,171.31M559.39,171.31L559.99,171.31L560.59,171.31L561.19,171.31L561.79,171.31L562.39,171.31L562.99,171.31L563.44,171.31M565.39,171.31L565.99,171.31L566.59,171.31L567.19,171.31L567.79,171.31L568.39,171.31L568.99,171.31L569.44,171.31M571.39,171.31L571.99,171.31L572.59,171.31L573.19,171.31L573.79,171.31L574.39,171.31L574.99,171.31L575.44,171.31M577.54,171.31L578.14,171.31L578.74,171.31L579.34,171.31L579.94,171.31L580.54,171.31L581.14,171.31L581.59,171.31M583.54,171.31L584.14,171.31L584.74,171.31L585.34,171.31L585.94,171.31L586.54,171.31L587.14,171.30L587.59,171.30M589.54,171.30L590.14,171.30L590.74,171.30L591.34,171.30L591.94,171.30L592.54,171.30L593.14,171.30L593.59,171.30M595.69,171.30L596.29,171.30L596.89,171.30L597.49,171.30L598.09,171.30L598.69,171.30L599.29,171.30L599.74,171.30M601.69,171.30L602.29,171.30L602.89,171.30L603.49,171.30L604.09,171.30L604.69,171.30L605.29,171.30L605.74,171.30M607.69,171.30L608.29,171.30L608.89,171.30L609.49,171.30L610.09,171.30L610.69,171.30L611.29,171.30L611.74,171.30M613.84,171.30L614.44,171.30L615.04,171.30L615.64,171.30L616.24,171.30L616.84,171.30L617.44,171.30L617.89,171.30M619.84,171.30L620.44,171.30L621.04,171.30L621.64,171.30L622.24,171.30L622.84,171.30L623.44,171.30L623.89,171.30M625.84,171.30L626.44,171.30L627.04,171.30L627.64,171.30L628.24,171.30L628.84,171.30L629.44,171.30L629.89,171.30M631.99,171.30L632.59,171.30L633.19,171.30L633.79,171.30L634.39,171.30L634.99,171.30L635.59,171.30L636.04,171.30M637.99,171.30L638.59,171.30L639.19,171.30L639.79,171.30L640.39,171.30L640.99,171.30L641.59,171.30L642.04,171.30M643.99,171.30L644.59,171.30L645.19,171.30L645.79,171.30L646.39,171.30L646.99,171.30L647.59,171.30L648.04,171.30M650.14,171.30L650.74,171.30L651.34,171.30L651.94,171.30L652.54,171.30L653.14,171.30L653.74,171.30L654.19,171.30M656.14,171.30L656.74,171.30L657.34,171.30L657.94,171.30L658.54,171.30L659.14,171.30L659.74,171.30L660.19,171.30M662.14,171.30L662.74,171.30L663.34,171.30L663.94,171.30L664.54,171.30L665.14,171.30L665.74,171.30L666.19,171.30M668.29,171.30L668.89,171.30L669.49,171.30L670.09,171.30L670.69,171.30L671.29,171.30L671.89,171.30L672.34,171.30M674.29,171.30L674.89,171.30L675.49,171.30L676.09,171.30L676.69,171.30L677.29,171.30L677.89,171.30L678.34,171.30M680.29,171.30L680.89,171.30L681.49,171.30L682.09,171.30L682.69,171.30L683.29,171.30L683.89,171.30L684.34,171.30M686.44,171.30L687.04,171.30L687.64,171.30L688.24,171.30L688.84,171.30L689.44,171.30L690.04,171.30L690.49,171.30M692.44,171.30L693.04,171.30L693.64,171.30L694.24,171.30L694.84,171.30L695.44,171.30L696.04,171.30L696.49,171.30M698.44,171.30L699.04,171.30L699.64,171.30L700.24,171.30L700.84,171.30L701.44,171.30L702.04,171.30L702.49,171.30M704.59,171.30L705.19,171.30L705.79,171.30L706.39,171.30L706.99,171.30L707.59,171.30L708.19,171.30L708.64,171.30M710.59,171.30L711.19,171.30L711.79,171.30L712.39,171.30L712.99,171.30L713.59,171.30L714.19,171.30L714.64,171.30M716.59,171.30L717.19,171.30L717.79,171.30L718.39,171.30L718.99,171.30L719.59,171.30L720.19,171.30L720.64,171.30M722.74,171.30L723.34,171.30L723.94,171.30L724.54,171.30L725.14,171.30L725.74,171.30L726.34,171.30L726.79,171.30M728.74,171.30L729.34,171.30L729.94,171.30L730.54,171.30L731.14,171.30L731.74,171.30L732.34,171.30L732.79,171.30M734.74,171.30L735.34,171.30L735.94,171.30L736.54,171.30L737.14,171.30L737.74,171.30L738.34,171.30L738.79,171.30M740.89,171.30L741.49,171.30L742.09,171.30L742.69,171.30L743.29,171.30L743.89,171.30L744.49,171.30L744.94,171.30M746.89,171.30L747.49,171.30L748.09,171.30L748.69,171.30L749.29,171.30L749.89,171.30L750.49,171.30L750.94,171.30M752.89,171.30L753.49,171.30L754.09,171.30L754.69,171.30L755.29,171.30L755.89,171.30L756.49,171.30L756.94,171.30M759.04,171.30L759.64,171.30L760.24,171.30L760.84,171.30L761.44,171.30L762.04,171.30L762.64,171.30L763.09,171.30M765.04,171.30L765.64,171.30L766.24,171.30L766.84,171.30L767.44,171.30L768.04,171.30L768.64,171.30L769.09,171.30M771.04,171.30L771.64,171.30L772.24,171.30L772.84,171.30L773.44,171.30L774.04,171.30L774.64,171.30L775.09,171.30M777.19,171.30L777.79,171.30L778.39,171.30L778.99,171.30L779.59,171.30L780.19,171.30L780.79,171.30L781.24,171.30M783.19,171.30L783.79,171.30L784.39,171.30L784.99,171.30L785.59,171.30L786.19,171.30L786.79,171.30L787.24,171.30M789.19,171.30L789.79,171.30L790.39,171.30L790.99,171.30L791.59,171.30L792.19,171.30L792.79,171.30L793.24,171.30M795.34,171.30L795.94,171.30L796.54,171.30L797.14,171.30L797.74,171.30L798.34,171.30L798.94,171.30L799.39,171.30M801.34,171.30L801.94,171.30L802.54,171.30L803.14,171.30L803.74,171.30L804.34,171.30L804.94,171.30L805.39,171.30" fill="none" stroke="#ff0000" stroke-width="1.85"/><path d="M488.35,17.20L488.95,17.20L489.55,17.21L490.15,17.23L490.75,17.26M492.10,17.34L492.69,17.39L493.29,17.45L493.89,17.51L494.48,17.58M495.82,17.76L496.41,17.86L497.01,17.96L497.60,18.06L498.04,18.15M499.51,18.46L500.09,18.59L500.67,18.74L501.25,18.88L501.69,19.00M502.99,19.37L503.56,19.55L504.13,19.73L504.70,19.91L505.13,20.06M506.40,20.51L506.96,20.73L507.52,20.94L508.08,21.17L508.49,21.34M509.73,21.87L510.28,22.12L510.83,22.37L511.37,22.63L511.77,22.82M512.98,23.43L513.51,23.71L514.04,23.99L514.57,24.28L514.83,24.42M516.00,25.09L516.52,25.40L517.03,25.71L517.54,26.03L517.79,26.18M518.93,26.91L519.43,27.25L519.93,27.58L520.42,27.92L520.67,28.09M521.77,28.88L522.25,29.23L522.73,29.59L523.21,29.95L523.45,30.14M524.39,30.88L524.86,31.25L525.33,31.63L525.79,32.01L526.02,32.21M527.05,33.08L527.50,33.48L527.95,33.87L528.39,34.28L528.50,34.38M529.49,35.29L529.93,35.70L530.36,36.12L530.79,36.54L530.90,36.64M531.86,37.59L532.28,38.02L532.70,38.45L533.11,38.88L533.22,38.99M534.04,39.87L534.45,40.31L534.85,40.75L535.25,41.20L535.45,41.42M536.24,42.32L536.64,42.78L537.03,43.23L537.41,43.69L537.51,43.81M538.27,44.73L538.65,45.20L539.03,45.67L539.40,46.14L539.49,46.25M540.32,47.32L540.69,47.79L541.05,48.27L541.41,48.75L541.50,48.87M542.21,49.84L542.56,50.33L542.91,50.81L543.26,51.30L543.34,51.43M544.03,52.41L544.37,52.91L544.71,53.40L545.04,53.90L545.12,54.03M545.78,55.03L546.11,55.53L546.44,56.04L546.76,56.54L546.84,56.67M547.47,57.69L547.79,58.20L548.10,58.71L548.41,59.22M549.03,60.25L549.33,60.77L549.63,61.29L549.93,61.81L550.01,61.94M550.60,62.98L550.89,63.51L551.18,64.03L551.47,64.56L551.54,64.69M552.11,65.75L552.39,66.28L552.67,66.81L552.95,67.34M553.50,68.41L553.77,68.94L554.04,69.48L554.31,70.01L554.37,70.15M554.90,71.23L555.16,71.77L555.42,72.31L555.68,72.85M556.19,73.94L556.44,74.48L556.69,75.03L556.93,75.57M557.42,76.67L557.66,77.22L557.90,77.77L558.14,78.32L558.20,78.46M558.67,79.56L558.90,80.12L559.13,80.67L559.36,81.23M559.81,82.34L560.03,82.89L560.25,83.45L560.47,84.01M560.90,85.13L561.12,85.69L561.33,86.25L561.54,86.81M561.96,87.94L562.16,88.50L562.36,89.07L562.57,89.63M562.96,90.77L563.16,91.33L563.35,91.90L563.55,92.47M563.93,93.61L564.12,94.18L564.30,94.75L564.49,95.32M564.85,96.46L565.03,97.03L565.21,97.61L565.39,98.18M565.73,99.33L565.91,99.90L566.08,100.48L566.24,101.05M566.58,102.21L566.74,102.78L566.90,103.36L567.06,103.94M567.38,105.10L567.53,105.68L567.69,106.26L567.84,106.84M568.14,108.00L568.29,108.58L568.44,109.16L568.58,109.75M568.87,110.91L569.01,111.49L569.15,112.08L569.28,112.66M569.55,113.83L569.69,114.42L569.82,115.00L569.95,115.59M570.20,116.76L570.33,117.35L570.45,117.93L570.57,118.52M570.78,119.55L570.90,120.14L571.02,120.73L571.13,121.32L571.16,121.46M571.36,122.49L571.47,123.08L571.58,123.67L571.69,124.26M571.90,125.44L572.01,126.04L572.11,126.63L572.21,127.22M572.41,128.40L572.50,128.99L572.60,129.59L572.69,130.18M572.88,131.36L572.97,131.96L573.05,132.55L573.14,133.15M573.29,134.18L573.37,134.78L573.45,135.37L573.53,135.97M573.69,137.16L573.77,137.75L573.84,138.35L573.91,138.94M574.06,140.14L574.13,140.73L574.19,141.33L574.26,141.92M574.37,142.97L574.44,143.56L574.50,144.16L574.56,144.76L574.57,144.91M574.67,145.95L574.73,146.55L574.78,147.15L574.84,147.75M574.94,148.94L574.99,149.54L575.04,150.14L575.08,150.74M575.17,151.93L575.21,152.53L575.26,153.13L575.29,153.73M575.36,154.78L575.40,155.37L575.43,155.97L575.47,156.57M575.53,157.77L575.56,158.37L575.59,158.97L575.61,159.57M575.66,160.77L575.68,161.37L575.71,161.97L575.73,162.57M575.76,163.62L575.77,164.22L575.79,164.82L575.80,165.42M575.83,166.62L575.84,167.22L575.84,167.82L575.85,168.42M575.86,169.62L575.86,170.22L575.87,170.82L575.98,171.30M577.48,171.30L578.08,171.30L578.68,171.30L579.28,171.30L579.73,171.30M581.08,171.30L581.68,171.30L582.28,171.30L582.88,171.30L583.48,171.30M584.83,171.30L585.43,171.30L586.03,171.30L586.63,171.30L587.23,171.30M588.58,171.30L589.18,171.30L589.78,171.30L590.38,171.30L590.98,171.30M592.33,171.30L592.93,171.30L593.53,171.30L594.13,171.30L594.58,171.30M596.08,171.30L596.68,171.30L597.28,171.30L597.88,171.30L598.33,171.30M599.83,171.30L600.43,171.30L601.03,171.30L601.63,171.30L602.08,171.30M603.58,171.30L604.18,171.30L604.78,171.30L605.38,171.30L605.83,171.30M607.33,171.30L607.93,171.30L608.53,171.30L609.13,171.30L609.58,171.30M610.93,171.30L611.53,171.30L612.13,171.30L612.73,171.30L613.33,171.30M614.68,171.30L615.28,171.30L615.88,171.30L616.48,171.30L617.08,171.30M618.43,171.30L619.03,171.30L619.63,171.30L620.23,171.30L620.83,171.30M622.18,171.30L622.78,171.30L623.38,171.30L623.98,171.30L624.58,171.30M625.93,171.30L626.53,171.30L627.13,171.30L627.73,171.30L628.18,171.30M629.68,171.30L630.28,171.30L630.88,171.30L631.48,171.30L631.93,171.30M633.43,171.30L634.03,171.30L634.63,171.30L635.23,171.30L635.68,171.30M637.18,171.30L637.78,171.30L638.38,171.30L638.98,171.30L639.43,171.30M640.78,171.30L641.38,171.30L641.98,171.30L642.58,171.30L643.18,171.30M644.53,171.30L645.13,171.30L645.73,171.30L646.33,171.30L646.93,171.30M648.28,171.30L648.88,171.30L649.48,171.30L650.08,171.30L650.68,171.30M652.03,171.30L652.63,171.30L653.23,171.30L653.83,171.30L654.43,171.30M655.78,171.30L656.38,171.30L656.98,171.30L657.58,171.30L658.03,171.30M659.53,171.30L660.13,171.30L660.73,171.30L661.33,171.30L661.78,171.30M663.28,171.30L663.88,171.30L664.48,171.30L665.08,171.30L665.53,171.30M667.03,171.30L667.63,171.30L668.23,171.30L668.83,171.30L669.28,171.30M670.63,171.30L671.23,171.30L671.83,171.30L672.43,171.30L673.03,171.30M674.38,171.30L674.98,171.30L675.58,171.30L676.18,171.30L676.78,171.30M678.13,171.30L678.73,171.30L679.33,171.30L679.93,171.30L680.53,171.30M681.88,171.30L682.48,171.30L683.08,171.30L683.68,171.30L684.28,171.30M685.63,171.30L686.23,171.30L686.83,171.30L687.43,171.30L687.88,171.30M689.38,171.30L689.98,171.30L690.58,171.30L691.18,171.30L691.63,171.30M693.13,171.30L693.73,171.30L694.33,171.30L694.93,171.30L695.38,171.30M696.88,171.30L697.48,171.30L698.08,171.30L698.68,171.30L699.13,171.30M700.63,171.30L701.23,171.30L701.83,171.30L702.43,171.30L702.88,171.30M704.23,171.30L704.83,171.30L705.43,171.30L706.03,171.30L706.63,171.30M707.98,171.30L708.58,171.30L709.18,171.30L709.78,171.30L710.38,171.30M711.73,171.30L712.33,171.30L712.93,171.30L713.53,171.30L714.13,171.30M715.48,171.30L716.08,171.30L716.68,171.30L717.28,171.30L717.73,171.30M719.23,171.30L719.83,171.30L720.43,171.30L721.03,171.30L721.48,171.30M722.98,171.30L723.58,171.30L724.18,171.30L724.78,171.30L725.23,171.30M726.73,171.30L727.33,171.30L727.93,171.30L728.53,171.30L728.98,171.30M730.48,171.30L731.08,171.30L731.68,171.30L732.28,171.30L732.73,171.30M734.08,171.30L734.68,171.30L735.28,171.30L735.88,171.30L736.48,171.30M737.83,171.30L738.43,171.30L739.03,171.30L739.63,171.30L740.23,171.30M741.58,171.30L742.18,171.30L742.78,171.30L743.38,171.30L743.98,171.30M745.33,171.30L745.93,171.30L746.53,171.30L747.13,171.30L747.73,171.30M749.08,171.30L749.68,171.30L750.28,171.30L750.88,171.30L751.33,171.30M752.83,171.30L753.43,171.30L754.03,171.30L754.63,171.30L755.08,171.30M756.58,171.30L757.18,171.30L757.78,171.30L758.38,171.30L758.83,171.30M760.33,171.30L760.93,171.30L761.53,171.30L762.13,171.30L762.58,171.30M763.93,171.30L764.53,171.30L765.13,171.30L765.73,171.30L766.33,171.30M767.68,171.30L768.28,171.30L768.88,171.30L769.48,171.30L770.08,171.30M771.43,171.30L772.03,171.30L772.63,171.30L773.23,171.30L773.83,171.30M775.18,171.30L775.78,171.30L776.38,171.30L776.98,171.30L777.58,171.30M778.93,171.30L779.53,171.30L780.13,171.30L780.73,171.30L781.18,171.30M782.68,171.30L783.28,171.30L783.88,171.30L784.48,171.30L784.93,171.30M786.43,171.30L787.03,171.30L787.63,171.30L788.23,171.30L788.68,171.30M790.18,171.30L790.78,171.30L791.38,171.30L791.98,171.30L792.43,171.30M793.78,171.30L794.38,171.30L794.98,171.30L795.58,171.30L796.18,171.30M797.53,171.30L798.13,171.30L798.73,171.30L799.33,171.30L799.93,171.30M801.28,171.30L801.88,171.30L802.48,171.30L803.08,171.30L803.68,171.30M805.03,171.30L805.63,171.30L806.23,171.30L806.53,171.30" fill="none" stroke="#000" stroke-width="2.0"/></g><rect x="50.45" y="0.1" width="331.65000000000003" height="332.09999999999997" fill="none" stroke="#707070" stroke-width="0.56"/><path d="M57.45,332.2v-3.3M57.45,0.1v3.3M73.34,332.2v-1.9M73.34,0.1v1.9M89.23,332.2v-1.9M89.23,0.1v1.9M105.13,332.2v-1.9M105.13,0.1v1.9M121.02,332.2v-1.9M121.02,0.1v1.9M136.91,332.2v-3.3M136.91,0.1v3.3M152.80,332.2v-1.9M152.80,0.1v1.9M168.69,332.2v-1.9M168.69,0.1v1.9M184.59,332.2v-1.9M184.59,0.1v1.9M200.48,332.2v-1.9M200.48,0.1v1.9M216.37,332.2v-3.3M216.37,0.1v3.3M232.26,332.2v-1.9M232.26,0.1v1.9M248.15,332.2v-1.9M248.15,0.1v1.9M264.05,332.2v-1.9M264.05,0.1v1.9M279.94,332.2v-1.9M279.94,0.1v1.9M295.83,332.2v-3.3M295.83,0.1v3.3M311.72,332.2v-1.9M311.72,0.1v1.9M327.61,332.2v-1.9M327.61,0.1v1.9M343.51,332.2v-1.9M343.51,0.1v1.9M359.40,332.2v-1.9M359.40,0.1v1.9M375.29,332.2v-3.3M375.29,0.1v3.3M50.45,325.40h3.3M382.1,325.40h-3.3M50.45,313.56h1.9M382.1,313.56h-1.9M50.45,301.71h1.9M382.1,301.71h-1.9M50.45,289.87h1.9M382.1,289.87h-1.9M50.45,278.02h1.9M382.1,278.02h-1.9M50.45,266.18h3.3M382.1,266.18h-3.3M50.45,254.34h1.9M382.1,254.34h-1.9M50.45,242.49h1.9M382.1,242.49h-1.9M50.45,230.65h1.9M382.1,230.65h-1.9M50.45,218.80h1.9M382.1,218.80h-1.9M50.45,206.96h3.3M382.1,206.96h-3.3M50.45,195.12h1.9M382.1,195.12h-1.9M50.45,183.27h1.9M382.1,183.27h-1.9M50.45,171.43h1.9M382.1,171.43h-1.9M50.45,159.58h1.9M382.1,159.58h-1.9M50.45,147.74h3.3M382.1,147.74h-3.3M50.45,135.90h1.9M382.1,135.90h-1.9M50.45,124.05h1.9M382.1,124.05h-1.9M50.45,112.21h1.9M382.1,112.21h-1.9M50.45,100.36h1.9M382.1,100.36h-1.9M50.45,88.52h3.3M382.1,88.52h-3.3M50.45,76.68h1.9M382.1,76.68h-1.9M50.45,64.83h1.9M382.1,64.83h-1.9M50.45,52.99h1.9M382.1,52.99h-1.9M50.45,41.14h1.9M382.1,41.14h-1.9M50.45,29.30h3.3M382.1,29.30h-3.3M50.45,17.46h1.9M382.1,17.46h-1.9M50.45,5.61h1.9M382.1,5.61h-1.9" stroke="#707070" stroke-width="0.56" fill="none"/><g font-family="Liberation Sans, sans-serif" font-size="13.5" fill="#595959"><text x="57.45" y="344.6" text-anchor="middle">0</text><text x="136.91" y="344.6" text-anchor="middle">1</text><text x="216.37" y="344.6" text-anchor="middle">2</text><text x="295.83" y="344.6" text-anchor="middle">3</text><text x="375.29" y="344.6" text-anchor="middle">4</text><text x="48.25" y="329.50" text-anchor="end">0.0</text><text x="48.25" y="270.28" text-anchor="end">0.1</text><text x="48.25" y="211.06" text-anchor="end">0.2</text><text x="48.25" y="151.84" text-anchor="end">0.3</text><text x="48.25" y="92.62" text-anchor="end">0.4</text><text x="48.25" y="33.40" text-anchor="end">0.5</text></g><rect x="481.66" y="0.1" width="331.34" height="332.09999999999997" fill="none" stroke="#707070" stroke-width="0.56"/><path d="M488.35,332.2v-3.3M488.35,0.1v3.3M504.26,332.2v-1.9M504.26,0.1v1.9M520.17,332.2v-1.9M520.17,0.1v1.9M536.09,332.2v-1.9M536.09,0.1v1.9M552.00,332.2v-1.9M552.00,0.1v1.9M567.91,332.2v-3.3M567.91,0.1v3.3M583.82,332.2v-1.9M583.82,0.1v1.9M599.73,332.2v-1.9M599.73,0.1v1.9M615.65,332.2v-1.9M615.65,0.1v1.9M631.56,332.2v-1.9M631.56,0.1v1.9M647.47,332.2v-3.3M647.47,0.1v3.3M663.38,332.2v-1.9M663.38,0.1v1.9M679.29,332.2v-1.9M679.29,0.1v1.9M695.21,332.2v-1.9M695.21,0.1v1.9M711.12,332.2v-1.9M711.12,0.1v1.9M727.03,332.2v-3.3M727.03,0.1v3.3M742.94,332.2v-1.9M742.94,0.1v1.9M758.85,332.2v-1.9M758.85,0.1v1.9M774.77,332.2v-1.9M774.77,0.1v1.9M790.68,332.2v-1.9M790.68,0.1v1.9M806.59,332.2v-3.3M806.59,0.1v3.3M481.66,325.40h3.3M813.0,325.40h-3.3M481.66,309.99h1.9M813.0,309.99h-1.9M481.66,294.58h1.9M813.0,294.58h-1.9M481.66,279.17h1.9M813.0,279.17h-1.9M481.66,263.76h3.3M813.0,263.76h-3.3M481.66,248.35h1.9M813.0,248.35h-1.9M481.66,232.94h1.9M813.0,232.94h-1.9M481.66,217.53h1.9M813.0,217.53h-1.9M481.66,202.12h3.3M813.0,202.12h-3.3M481.66,186.71h1.9M813.0,186.71h-1.9M481.66,171.30h1.9M813.0,171.30h-1.9M481.66,155.89h1.9M813.0,155.89h-1.9M481.66,140.48h3.3M813.0,140.48h-3.3M481.66,125.07h1.9M813.0,125.07h-1.9M481.66,109.66h1.9M813.0,109.66h-1.9M481.66,94.25h1.9M813.0,94.25h-1.9M481.66,78.84h3.3M813.0,78.84h-3.3M481.66,63.43h1.9M813.0,63.43h-1.9M481.66,48.02h1.9M813.0,48.02h-1.9M481.66,32.61h1.9M813.0,32.61h-1.9M481.66,17.20h3.3M813.0,17.20h-3.3M481.66,1.79h1.9M813.0,1.79h-1.9" stroke="#707070" stroke-width="0.56" fill="none"/><g font-family="Liberation Sans, sans-serif" font-size="13.5" fill="#595959"><text x="488.35" y="344.6" text-anchor="middle">0</text><text x="567.91" y="344.6" text-anchor="middle">1</text><text x="647.47" y="344.6" text-anchor="middle">2</text><text x="727.03" y="344.6" text-anchor="middle">3</text><text x="806.59" y="344.6" text-anchor="middle">4</text><text x="479.46" y="329.50" text-anchor="end">0.0</text><text x="479.46" y="267.86" text-anchor="end">0.2</text><text x="479.46" y="206.22" text-anchor="end">0.4</text><text x="479.46" y="144.58" text-anchor="end">0.6</text><text x="479.46" y="82.94" text-anchor="end">0.8</text><text x="479.46" y="21.30" text-anchor="end">1.0</text></g><text x="211.93" y="369.2" font-family="Liberation Serif, serif" font-style="italic" font-size="16.8" fill="#111">q</text><path d="M214.88,359.6 c0.9,-1.7 2.0,-1.7 2.9,-1.0 s2.0,0.8 2.9,-1.0" fill="none" stroke="#111" stroke-width="1.0"/><text x="643.28" y="369.2" font-family="Liberation Serif, serif" font-style="italic" font-size="16.8" fill="#111">q</text><path d="M646.23,359.6 c0.9,-1.7 2.0,-1.7 2.9,-1.0 s2.0,0.8 2.9,-1.0" fill="none" stroke="#111" stroke-width="1.0"/><g transform="translate(16.9,205.8) rotate(-90)" font-family="Liberation Serif, serif" fill="#111"><text transform="translate(-0.09,0) scale(0.960,1)" font-size="17.5">R</text><text transform="translate(11.17,0) scale(1.220,1)" font-size="17.5">e</text><path d="M26.90,-14.0 Q15.80,-4.5 26.90,4.9" stroke="#111" stroke-width="1.0" fill="none"/><text transform="translate(27.53,0) scale(1.072,1)" font-size="17.5" font-style="italic" stroke="#fff" stroke-width="0.2">ϖ</text><path d="M43.50,4.7 L50.30,-13.8" stroke="#111" stroke-width="0.85" fill="none"/><text transform="translate(51.25,0) scale(1.158,1)" font-size="17.5" font-style="italic" stroke="#fff" stroke-width="0.2">κ</text><path d="M62.70,0 H70.80" stroke="#111" stroke-width="0.85" fill="none"/><path d="M72.50,-14.0 Q83.20,-4.5 72.50,4.9" stroke="#111" stroke-width="1.0" fill="none"/></g><g transform="translate(447.7,212) rotate(-90)" font-family="Liberation Serif, serif" fill="#111"><path d="M0.3,-4.3 H11.3" stroke="#111" stroke-width="0.85" fill="none"/><text transform="translate(12.50,0) scale(1.265,1)" font-size="17.5">I</text><text transform="translate(19.69,0) scale(1.103,1)" font-size="17.5">m</text><path d="M41.20,-14.0 Q30.10,-4.5 41.20,4.9" stroke="#111" stroke-width="1.0" fill="none"/><text transform="translate(41.83,0) scale(1.072,1)" font-size="17.5" font-style="italic" stroke="#fff" stroke-width="0.2">ϖ</text><path d="M57.80,4.7 L64.60,-13.8" stroke="#111" stroke-width="0.85" fill="none"/><text transform="translate(65.55,0) scale(1.158,1)" font-size="17.5" font-style="italic" stroke="#fff" stroke-width="0.2">κ</text><path d="M77.00,0 H85.10" stroke="#111" stroke-width="0.85" fill="none"/><path d="M86.80,-14.0 Q97.50,-4.5 86.80,4.9" stroke="#111" stroke-width="1.0" fill="none"/></g></svg>
</body></html>
